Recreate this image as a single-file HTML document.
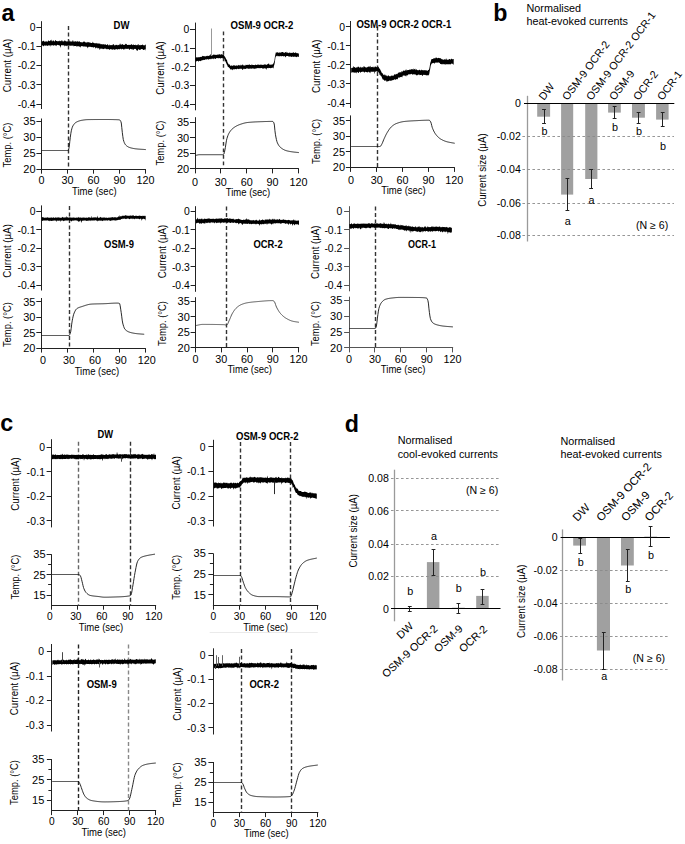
<!DOCTYPE html>
<html><head><meta charset="utf-8"><style>
html,body{margin:0;padding:0;background:#fff;}
body{width:685px;height:844px;overflow:hidden;font-family:'Liberation Sans', sans-serif;}
svg{display:block;}
</style></head><body>
<svg width="685" height="844" viewBox="0 0 685 844" font-family="'Liberation Sans', sans-serif">
<rect width="685" height="844" fill="#fff"/>
<line x1="41.50" y1="21.20" x2="41.50" y2="109.00" stroke="#222" stroke-width="1.0" stroke-linecap="butt"/>
<line x1="36.40" y1="27.50" x2="41.40" y2="27.50" stroke="#222" stroke-width="1" stroke-linecap="butt"/>
<text x="35.60" y="30.80" font-size="10.4" text-anchor="end" fill="#000">0</text>
<line x1="36.40" y1="46.50" x2="41.40" y2="46.50" stroke="#222" stroke-width="1" stroke-linecap="butt"/>
<text x="35.60" y="50.10" font-size="10.4" text-anchor="end" fill="#000">-0.1</text>
<line x1="36.40" y1="65.50" x2="41.40" y2="65.50" stroke="#222" stroke-width="1" stroke-linecap="butt"/>
<text x="35.60" y="69.40" font-size="10.4" text-anchor="end" fill="#000">-0.2</text>
<line x1="36.40" y1="84.50" x2="41.40" y2="84.50" stroke="#222" stroke-width="1" stroke-linecap="butt"/>
<text x="35.60" y="88.70" font-size="10.4" text-anchor="end" fill="#000">-0.3</text>
<line x1="36.40" y1="104.50" x2="41.40" y2="104.50" stroke="#222" stroke-width="1" stroke-linecap="butt"/>
<text x="35.60" y="108.00" font-size="10.4" text-anchor="end" fill="#000">-0.4</text>
<line x1="41.50" y1="118.50" x2="41.50" y2="169.70" stroke="#222" stroke-width="1.0" stroke-linecap="butt"/>
<line x1="36.40" y1="121.50" x2="41.40" y2="121.50" stroke="#222" stroke-width="1" stroke-linecap="butt"/>
<text x="35.60" y="125.30" font-size="11.0" text-anchor="end" fill="#000">35</text>
<line x1="36.40" y1="137.50" x2="41.40" y2="137.50" stroke="#222" stroke-width="1" stroke-linecap="butt"/>
<text x="35.60" y="141.23" font-size="11.0" text-anchor="end" fill="#000">30</text>
<line x1="36.40" y1="153.50" x2="41.40" y2="153.50" stroke="#222" stroke-width="1" stroke-linecap="butt"/>
<text x="35.60" y="157.17" font-size="11.0" text-anchor="end" fill="#000">25</text>
<line x1="36.40" y1="169.50" x2="41.40" y2="169.50" stroke="#222" stroke-width="1" stroke-linecap="butt"/>
<text x="35.60" y="173.10" font-size="11.0" text-anchor="end" fill="#000">20</text>
<line x1="40.90" y1="169.50" x2="145.90" y2="169.50" stroke="#222" stroke-width="1.2" stroke-linecap="butt"/>
<line x1="41.50" y1="169.20" x2="41.50" y2="173.70" stroke="#222" stroke-width="1" stroke-linecap="butt"/>
<text x="41.40" y="183.60" font-size="10.8" text-anchor="middle" fill="#000">0</text>
<line x1="67.50" y1="169.20" x2="67.50" y2="173.70" stroke="#222" stroke-width="1" stroke-linecap="butt"/>
<text x="67.40" y="183.60" font-size="10.8" text-anchor="middle" fill="#000">30</text>
<line x1="93.50" y1="169.20" x2="93.50" y2="173.70" stroke="#222" stroke-width="1" stroke-linecap="butt"/>
<text x="93.40" y="183.60" font-size="10.8" text-anchor="middle" fill="#000">60</text>
<line x1="119.50" y1="169.20" x2="119.50" y2="173.70" stroke="#222" stroke-width="1" stroke-linecap="butt"/>
<text x="119.40" y="183.60" font-size="10.8" text-anchor="middle" fill="#000">90</text>
<line x1="145.50" y1="169.20" x2="145.50" y2="173.70" stroke="#222" stroke-width="1" stroke-linecap="butt"/>
<text x="145.40" y="183.60" font-size="10.8" text-anchor="middle" fill="#000">120</text>
<text x="94.30" y="194.80" font-size="10.5" text-anchor="middle" textLength="44.6" lengthAdjust="spacingAndGlyphs" fill="#000">Time (sec)</text>
<text x="10.80" y="65.50" font-size="10.5" text-anchor="middle" transform="rotate(-90 10.80 65.50)" textLength="53.5" lengthAdjust="spacingAndGlyphs" fill="#000">Current (µA)</text>
<text x="10.80" y="145.00" font-size="10.5" text-anchor="middle" transform="rotate(-90 10.80 145.00)" textLength="45.0" lengthAdjust="spacingAndGlyphs" fill="#000">Temp. (°C)</text>
<line x1="68.50" y1="26.00" x2="68.50" y2="169.20" stroke="#333" stroke-width="1.4" stroke-dasharray="3.9 2.6" stroke-linecap="butt"/>
<path d="M41.8,41.8 42.3,41.3 42.8,41.2 43.3,40.8 43.8,40.7 44.3,41.7 44.8,41.6 45.3,41.4 45.8,41.6 46.3,41.5 46.8,41.2 47.3,41.7 47.8,41.6 48.3,40.6 48.8,40.6 49.3,41.2 49.8,40.9 50.3,40.5 50.8,40.2 51.3,39.5 51.8,41.3 52.3,41.5 52.8,40.6 53.3,41.1 53.8,40.1 54.3,41.4 54.8,41.4 55.3,39.8 55.8,40.6 56.3,41.1 56.8,41.1 57.3,41.0 57.8,41.4 58.3,41.3 58.8,41.1 59.3,40.5 59.8,41.2 60.3,41.3 60.8,41.1 61.3,40.1 61.8,41.2 62.3,41.4 62.8,40.2 63.3,41.5 63.8,41.4 64.3,41.0 64.8,39.9 65.3,41.6 65.8,40.6 66.3,41.6 66.8,41.5 67.3,41.6 67.8,41.2 68.3,41.6 68.8,41.7 69.3,41.5 69.8,40.0 70.3,41.2 70.8,41.8 71.3,41.5 71.8,41.4 72.3,41.4 72.8,40.0 73.3,40.8 73.8,41.9 74.3,40.9 74.8,42.1 75.3,41.0 75.8,41.5 76.3,41.4 76.8,41.8 77.3,40.7 77.8,41.7 78.3,41.4 78.8,41.7 79.3,41.0 79.8,41.7 80.3,42.0 80.8,42.2 81.3,42.3 81.8,42.2 82.3,42.2 82.8,42.4 83.3,41.5 83.8,41.8 84.3,41.6 84.8,41.7 85.3,42.5 85.8,42.2 86.3,42.2 86.8,42.7 87.3,42.4 87.8,41.7 88.3,42.5 88.8,41.9 89.3,42.6 89.8,42.4 90.3,42.6 90.8,43.0 91.3,43.1 91.8,43.0 92.3,43.0 92.8,41.6 93.3,42.9 93.8,42.8 94.3,43.1 94.8,43.6 95.3,43.1 95.8,43.6 96.3,43.6 96.8,42.8 97.3,44.0 97.8,42.9 98.3,43.0 98.8,44.3 99.3,43.3 99.8,43.7 100.3,44.5 100.8,43.5 101.3,44.5 101.8,43.9 102.3,44.3 102.8,44.5 103.3,44.0 103.8,44.4 104.3,44.2 104.8,44.7 105.3,44.3 105.8,44.6 106.3,45.0 106.8,44.9 107.3,44.5 107.8,44.0 108.3,45.3 108.8,45.4 109.3,44.3 109.8,45.4 110.3,45.0 110.8,45.3 111.3,45.1 111.8,45.3 112.3,45.2 112.8,44.5 113.3,44.5 113.8,44.1 114.3,45.2 114.8,45.5 115.3,45.2 115.8,44.8 116.3,44.7 116.8,44.9 117.3,45.4 117.8,44.8 118.3,45.2 118.8,44.8 119.3,45.2 119.8,43.6 120.3,45.1 120.8,43.2 121.3,44.6 121.8,44.9 122.3,44.1 122.8,44.3 123.3,45.0 123.8,44.7 124.3,44.9 124.8,44.7 125.3,43.4 125.8,44.6 126.3,43.7 126.8,44.6 127.3,45.1 127.8,44.9 128.3,44.7 128.8,44.9 129.3,44.7 129.8,45.0 130.3,44.7 130.8,45.0 131.3,44.0 131.8,44.6 132.3,45.2 132.8,44.8 133.3,44.2 133.8,45.1 134.3,45.1 134.8,44.9 135.3,44.6 135.8,45.2 136.3,45.3 136.8,45.1 137.3,45.3 137.8,44.5 138.3,43.7 138.8,45.4 139.3,45.0 139.8,45.3 140.3,44.7 140.8,45.5 141.3,45.0 141.8,45.0 142.3,44.5 142.8,44.8 143.3,45.0 143.8,45.4 144.3,45.5 144.8,45.0 145.3,44.8 145.8,44.5 145.8,50.9 145.3,49.1 144.8,49.7 144.3,49.5 143.8,49.9 143.3,49.9 142.8,49.5 142.3,49.0 141.8,49.0 141.3,49.1 140.8,49.5 140.3,49.8 139.8,49.8 139.3,50.0 138.8,49.6 138.3,49.1 137.8,50.2 137.3,51.0 136.8,50.5 136.3,49.9 135.8,48.8 135.3,48.9 134.8,48.9 134.3,48.8 133.8,49.3 133.3,50.1 132.8,50.0 132.3,48.8 131.8,48.9 131.3,49.5 130.8,48.8 130.3,49.1 129.8,49.3 129.3,50.2 128.8,49.0 128.3,48.5 127.8,48.9 127.3,48.7 126.8,48.8 126.3,49.1 125.8,48.6 125.3,48.9 124.8,49.8 124.3,48.7 123.8,48.9 123.3,50.1 122.8,48.8 122.3,49.0 121.8,48.8 121.3,49.8 120.8,48.8 120.3,48.7 119.8,49.3 119.3,49.3 118.8,49.3 118.3,49.0 117.8,49.2 117.3,49.7 116.8,49.2 116.3,48.9 115.8,49.4 115.3,49.2 114.8,50.0 114.3,49.5 113.8,49.5 113.3,49.3 112.8,49.3 112.3,49.9 111.8,49.6 111.3,49.2 110.8,49.1 110.3,49.3 109.8,49.6 109.3,50.0 108.8,48.9 108.3,49.2 107.8,48.8 107.3,49.4 106.8,48.8 106.3,49.5 105.8,48.7 105.3,48.6 104.8,48.7 104.3,48.5 103.8,49.3 103.3,49.1 102.8,48.4 102.3,49.2 101.8,48.2 101.3,49.1 100.8,48.4 100.3,48.7 99.8,50.3 99.3,48.6 98.8,47.9 98.3,48.4 97.8,47.6 97.3,48.8 96.8,47.8 96.3,47.4 95.8,48.7 95.3,47.7 94.8,47.2 94.3,47.1 93.8,47.1 93.3,48.1 92.8,47.3 92.3,46.9 91.8,47.2 91.3,46.9 90.8,46.8 90.3,47.1 89.8,46.5 89.3,47.0 88.8,47.2 88.3,46.5 87.8,48.4 87.3,47.3 86.8,46.4 86.3,46.8 85.8,46.9 85.3,46.3 84.8,46.4 84.3,46.4 83.8,46.4 83.3,46.6 82.8,46.5 82.3,46.0 81.8,45.9 81.3,45.9 80.8,47.7 80.3,46.4 79.8,46.2 79.3,47.0 78.8,46.6 78.3,46.1 77.8,46.2 77.3,46.2 76.8,47.0 76.3,45.8 75.8,46.1 75.3,46.0 74.8,46.1 74.3,45.9 73.8,46.4 73.3,45.5 72.8,45.6 72.3,45.8 71.8,45.7 71.3,45.6 70.8,45.9 70.3,45.6 69.8,45.5 69.3,45.8 68.8,45.6 68.3,45.5 67.8,45.6 67.3,45.8 66.8,46.3 66.3,45.4 65.8,45.9 65.3,45.5 64.8,45.2 64.3,46.7 63.8,45.0 63.3,45.5 62.8,45.1 62.3,45.6 61.8,45.2 61.3,45.1 60.8,46.2 60.3,48.1 59.8,44.9 59.3,45.8 58.8,45.3 58.3,44.9 57.8,44.8 57.3,45.0 56.8,45.0 56.3,46.2 55.8,45.5 55.3,45.5 54.8,44.9 54.3,45.3 53.8,46.0 53.3,45.3 52.8,45.1 52.3,45.6 51.8,45.1 51.3,45.6 50.8,46.7 50.3,45.1 49.8,45.4 49.3,45.4 48.8,45.3 48.3,45.6 47.8,45.7 47.3,46.0 46.8,45.3 46.3,45.8 45.8,45.3 45.3,46.1 44.8,45.5 44.3,45.3 43.8,46.5 43.3,45.9 42.8,45.5 42.3,45.5 41.8,45.8Z" fill="#000"/>
<path d="M41.80,150.50 42.30,150.50 42.80,150.50 43.30,150.50 43.80,150.50 44.30,150.50 44.80,150.50 45.30,150.50 45.80,150.50 46.30,150.50 46.80,150.50 47.30,150.50 47.80,150.50 48.30,150.50 48.80,150.50 49.30,150.50 49.80,150.50 50.30,150.50 50.80,150.50 51.30,150.50 51.80,150.50 52.30,150.50 52.80,150.50 53.30,150.50 53.80,150.50 54.30,150.50 54.80,150.50 55.30,150.50 55.80,150.50 56.30,150.50 56.80,150.50 57.30,150.50 57.80,150.50 58.30,150.50 58.80,150.50 59.30,150.50 59.80,150.50 60.30,150.50 60.80,150.50 61.30,150.50 61.80,150.50 62.30,150.50 62.80,150.50 63.30,150.50 63.80,150.50 64.30,150.50 64.80,150.50 65.30,150.50 65.80,150.50 66.30,150.50 66.80,150.50 67.30,150.50 67.80,150.50 68.30,150.34 68.80,148.95 69.30,146.15 69.80,141.48 70.30,137.27 70.80,133.65 71.30,130.80 71.80,128.84 72.30,127.26 72.80,126.08 73.30,125.24 73.80,124.50 74.30,123.86 74.80,123.31 75.30,122.86 75.80,122.48 76.30,122.19 76.80,121.93 77.30,121.68 77.80,121.46 78.30,121.26 78.80,121.07 79.30,120.90 79.80,120.75 80.30,120.62 80.80,120.50 81.30,120.39 81.80,120.30 82.30,120.22 82.80,120.14 83.30,120.06 83.80,119.98 84.30,119.91 84.80,119.85 85.30,119.79 85.80,119.74 86.30,119.69 86.80,119.66 87.30,119.63 87.80,119.61 88.30,119.60 88.80,119.59 89.30,119.59 89.80,119.58 90.30,119.57 90.80,119.57 91.30,119.56 91.80,119.56 92.30,119.55 92.80,119.55 93.30,119.54 93.80,119.54 94.30,119.54 94.80,119.53 95.30,119.53 95.80,119.53 96.30,119.52 96.80,119.52 97.30,119.52 97.80,119.51 98.30,119.51 98.80,119.51 99.30,119.51 99.80,119.51 100.30,119.51 100.80,119.50 101.30,119.50 101.80,119.50 102.30,119.50 102.80,119.50 103.30,119.50 103.80,119.50 104.30,119.50 104.80,119.50 105.30,119.50 105.80,119.50 106.30,119.50 106.80,119.50 107.30,119.51 107.80,119.51 108.30,119.51 108.80,119.52 109.30,119.52 109.80,119.52 110.30,119.53 110.80,119.54 111.30,119.54 111.80,119.55 112.30,119.56 112.80,119.57 113.30,119.58 113.80,119.59 114.30,119.61 114.80,119.62 115.30,119.63 115.80,119.65 116.30,119.67 116.80,119.69 117.30,119.71 117.80,119.73 118.30,119.75 118.80,119.77 119.30,119.80 119.80,120.01 120.30,120.57 120.80,121.44 121.30,123.02 121.80,127.73 122.30,132.37 122.80,136.33 123.30,139.57 123.80,141.32 124.30,142.63 124.80,143.68 125.30,144.49 125.80,145.10 126.30,145.57 126.80,145.98 127.30,146.35 127.80,146.67 128.30,146.95 128.80,147.19 129.30,147.39 129.80,147.57 130.30,147.72 130.80,147.86 131.30,148.00 131.80,148.12 132.30,148.24 132.80,148.34 133.30,148.44 133.80,148.53 134.30,148.62 134.80,148.70 135.30,148.77 135.80,148.83 136.30,148.89 136.80,148.94 137.30,148.99 137.80,149.04 138.30,149.08 138.80,149.13 139.30,149.16 139.80,149.20 140.30,149.24 140.80,149.27 141.30,149.30 141.80,149.33 142.30,149.36 142.80,149.39 143.30,149.42 143.80,149.45 144.30,149.49 144.80,149.52 145.30,149.55 145.80,149.59" fill="none" stroke="#111" stroke-width="0.9" stroke-linejoin="round"/>
<text x="121.50" y="29.20" font-size="10.3" text-anchor="middle" font-weight="bold" textLength="15.9" lengthAdjust="spacingAndGlyphs" fill="#000">DW</text>
<line x1="195.50" y1="22.60" x2="195.50" y2="110.30" stroke="#222" stroke-width="1.0" stroke-linecap="butt"/>
<line x1="190.00" y1="29.50" x2="195.00" y2="29.50" stroke="#222" stroke-width="1" stroke-linecap="butt"/>
<text x="189.20" y="33.00" font-size="10.4" text-anchor="end" fill="#000">0</text>
<line x1="190.00" y1="48.50" x2="195.00" y2="48.50" stroke="#222" stroke-width="1" stroke-linecap="butt"/>
<text x="189.20" y="51.82" font-size="10.4" text-anchor="end" fill="#000">-0.1</text>
<line x1="190.00" y1="66.50" x2="195.00" y2="66.50" stroke="#222" stroke-width="1" stroke-linecap="butt"/>
<text x="189.20" y="70.65" font-size="10.4" text-anchor="end" fill="#000">-0.2</text>
<line x1="190.00" y1="85.50" x2="195.00" y2="85.50" stroke="#222" stroke-width="1" stroke-linecap="butt"/>
<text x="189.20" y="89.47" font-size="10.4" text-anchor="end" fill="#000">-0.3</text>
<line x1="190.00" y1="104.50" x2="195.00" y2="104.50" stroke="#222" stroke-width="1" stroke-linecap="butt"/>
<text x="189.20" y="108.30" font-size="10.4" text-anchor="end" fill="#000">-0.4</text>
<line x1="195.50" y1="117.20" x2="195.50" y2="169.40" stroke="#222" stroke-width="1.0" stroke-linecap="butt"/>
<line x1="190.00" y1="122.50" x2="195.00" y2="122.50" stroke="#222" stroke-width="1" stroke-linecap="butt"/>
<text x="189.20" y="126.20" font-size="11.0" text-anchor="end" fill="#000">35</text>
<line x1="190.00" y1="137.50" x2="195.00" y2="137.50" stroke="#222" stroke-width="1" stroke-linecap="butt"/>
<text x="189.20" y="141.73" font-size="11.0" text-anchor="end" fill="#000">30</text>
<line x1="190.00" y1="153.50" x2="195.00" y2="153.50" stroke="#222" stroke-width="1" stroke-linecap="butt"/>
<text x="189.20" y="157.27" font-size="11.0" text-anchor="end" fill="#000">25</text>
<line x1="190.00" y1="168.50" x2="195.00" y2="168.50" stroke="#222" stroke-width="1" stroke-linecap="butt"/>
<text x="189.20" y="172.80" font-size="11.0" text-anchor="end" fill="#000">20</text>
<line x1="194.50" y1="168.50" x2="298.90" y2="168.50" stroke="#222" stroke-width="1.2" stroke-linecap="butt"/>
<line x1="195.50" y1="168.90" x2="195.50" y2="173.40" stroke="#222" stroke-width="1" stroke-linecap="butt"/>
<text x="195.00" y="185.60" font-size="10.8" text-anchor="middle" fill="#000">0</text>
<line x1="220.50" y1="168.90" x2="220.50" y2="173.40" stroke="#222" stroke-width="1" stroke-linecap="butt"/>
<text x="220.85" y="185.60" font-size="10.8" text-anchor="middle" fill="#000">30</text>
<line x1="246.50" y1="168.90" x2="246.50" y2="173.40" stroke="#222" stroke-width="1" stroke-linecap="butt"/>
<text x="246.70" y="185.60" font-size="10.8" text-anchor="middle" fill="#000">60</text>
<line x1="272.50" y1="168.90" x2="272.50" y2="173.40" stroke="#222" stroke-width="1" stroke-linecap="butt"/>
<text x="272.55" y="185.60" font-size="10.8" text-anchor="middle" fill="#000">90</text>
<line x1="298.50" y1="168.90" x2="298.50" y2="173.40" stroke="#222" stroke-width="1" stroke-linecap="butt"/>
<text x="298.40" y="185.60" font-size="10.8" text-anchor="middle" fill="#000">120</text>
<text x="248.00" y="195.80" font-size="10.5" text-anchor="middle" textLength="44.6" lengthAdjust="spacingAndGlyphs" fill="#000">Time (sec)</text>
<text x="164.50" y="67.90" font-size="10.5" text-anchor="middle" transform="rotate(-90 164.50 67.90)" textLength="53.5" lengthAdjust="spacingAndGlyphs" fill="#000">Current (µA)</text>
<text x="164.50" y="143.05" font-size="10.5" text-anchor="middle" transform="rotate(-90 164.50 143.05)" textLength="45.0" lengthAdjust="spacingAndGlyphs" fill="#000">Temp. (°C)</text>
<line x1="223.50" y1="31.40" x2="223.50" y2="168.90" stroke="#333" stroke-width="1.4" stroke-dasharray="3.9 2.6" stroke-linecap="butt"/>
<path d="M195.4,57.8 195.9,58.0 196.4,56.9 196.9,57.5 197.4,57.3 197.9,57.6 198.4,57.0 198.9,57.5 199.4,57.3 199.9,56.9 200.4,56.9 200.9,56.8 201.4,56.8 201.9,56.9 202.4,55.8 202.9,56.0 203.4,56.2 203.9,56.1 204.4,56.4 204.9,56.1 205.4,56.5 205.9,56.3 206.4,55.8 206.9,56.2 207.4,56.1 207.9,55.6 208.4,55.9 208.9,56.0 209.4,55.4 209.9,55.3 210.4,53.8 210.9,55.7 211.4,55.5 211.9,55.4 212.4,54.9 212.9,55.4 213.4,54.5 213.9,54.5 214.4,54.7 214.9,54.8 215.4,54.7 215.9,55.1 216.4,54.8 216.9,55.1 217.4,54.3 217.9,55.0 218.4,54.3 218.9,54.8 219.4,54.1 219.9,54.4 220.4,54.5 220.9,54.8 221.4,54.0 221.9,54.4 222.4,54.5 222.9,54.7 223.4,54.4 223.9,55.2 224.4,55.9 224.9,56.8 225.4,57.6 225.9,58.5 226.4,59.9 226.9,59.3 227.4,62.2 227.9,62.7 228.4,64.0 228.9,64.6 229.4,64.2 229.9,65.1 230.4,65.7 230.9,65.9 231.4,65.7 231.9,65.0 232.4,66.0 232.9,65.7 233.4,65.5 233.9,65.0 234.4,65.2 234.9,65.8 235.4,65.9 235.9,65.2 236.4,65.4 236.9,65.5 237.4,65.7 237.9,65.6 238.4,64.8 238.9,65.5 239.4,65.0 239.9,65.7 240.4,65.6 240.9,64.6 241.4,65.2 241.9,65.5 242.4,64.8 242.9,64.3 243.4,65.5 243.9,65.4 244.4,65.4 244.9,65.4 245.4,65.4 245.9,64.6 246.4,65.1 246.9,64.9 247.4,64.8 247.9,65.1 248.4,65.0 248.9,64.5 249.4,64.3 249.9,65.1 250.4,65.1 250.9,65.1 251.4,65.3 251.9,64.1 252.4,64.9 252.9,65.1 253.4,65.0 253.9,64.9 254.4,65.1 254.9,65.2 255.4,64.5 255.9,64.8 256.4,65.0 256.9,64.9 257.4,64.4 257.9,64.8 258.4,64.6 258.9,64.7 259.4,64.8 259.9,64.9 260.4,64.5 260.9,64.8 261.4,64.5 261.9,64.9 262.4,64.8 262.9,64.9 263.4,64.8 263.9,64.8 264.4,64.6 264.9,64.3 265.4,64.8 265.9,64.3 266.4,64.9 266.9,64.8 267.4,64.2 267.9,63.9 268.4,64.1 268.9,62.9 269.4,64.8 269.9,64.7 270.4,64.7 270.9,64.6 271.4,64.5 271.9,64.7 272.4,64.6 272.9,64.0 273.4,63.5 273.9,62.3 274.4,60.8 274.9,56.8 275.4,54.3 275.9,52.2 276.4,52.7 276.9,52.2 277.4,52.3 277.9,52.5 278.4,52.7 278.9,52.7 279.4,52.2 279.9,52.7 280.4,52.8 280.9,52.3 281.4,52.3 281.9,52.2 282.4,52.1 282.9,52.1 283.4,52.3 283.9,53.0 284.4,52.4 284.9,53.0 285.4,52.0 285.9,52.1 286.4,53.0 286.9,51.6 287.4,53.0 287.9,52.4 288.4,53.2 288.9,52.7 289.4,53.1 289.9,51.9 290.4,53.2 290.9,52.8 291.4,52.9 291.9,52.8 292.4,53.0 292.9,52.5 293.4,52.0 293.9,53.0 294.4,53.0 294.9,52.8 295.4,52.4 295.9,52.6 296.4,52.9 296.9,53.3 297.4,53.0 297.9,53.4 298.4,53.4 298.9,53.4 298.9,56.7 298.4,57.0 297.9,56.6 297.4,56.5 296.9,57.3 296.4,57.1 295.9,56.8 295.4,56.7 294.9,56.8 294.4,56.5 293.9,56.9 293.4,56.7 292.9,56.5 292.4,56.6 291.9,56.9 291.4,56.7 290.9,57.1 290.4,56.3 289.9,56.3 289.4,56.7 288.9,56.8 288.4,56.2 287.9,56.1 287.4,56.1 286.9,56.1 286.4,56.1 285.9,56.7 285.4,57.6 284.9,56.0 284.4,56.2 283.9,56.3 283.4,56.6 282.9,56.0 282.4,56.0 281.9,56.2 281.4,56.2 280.9,56.2 280.4,55.7 279.9,56.8 279.4,56.0 278.9,56.1 278.4,56.3 277.9,56.6 277.4,55.8 276.9,55.8 276.4,56.2 275.9,56.3 275.4,57.8 274.9,62.1 274.4,64.5 273.9,65.9 273.4,68.8 272.9,67.6 272.4,67.8 271.9,68.1 271.4,67.8 270.9,68.4 270.4,67.9 269.9,68.1 269.4,67.9 268.9,67.7 268.4,68.2 267.9,68.2 267.4,68.0 266.9,68.1 266.4,69.9 265.9,68.6 265.4,68.4 264.9,68.5 264.4,67.9 263.9,68.8 263.4,68.3 262.9,69.1 262.4,68.3 261.9,67.9 261.4,67.9 260.9,68.3 260.4,67.9 259.9,68.5 259.4,67.9 258.9,67.9 258.4,68.3 257.9,68.0 257.4,68.1 256.9,68.7 256.4,68.1 255.9,68.7 255.4,68.6 254.9,68.6 254.4,69.2 253.9,68.1 253.4,68.9 252.9,68.6 252.4,68.2 251.9,69.1 251.4,68.4 250.9,68.5 250.4,68.5 249.9,69.0 249.4,68.5 248.9,68.6 248.4,68.9 247.9,68.6 247.4,68.4 246.9,68.3 246.4,68.4 245.9,69.0 245.4,69.1 244.9,68.5 244.4,69.2 243.9,68.8 243.4,68.7 242.9,69.9 242.4,69.8 241.9,69.1 241.4,68.8 240.9,68.5 240.4,69.0 239.9,68.6 239.4,69.1 238.9,69.3 238.4,68.9 237.9,68.8 237.4,68.8 236.9,69.0 236.4,69.4 235.9,69.0 235.4,68.9 234.9,69.6 234.4,69.2 233.9,69.1 233.4,69.5 232.9,69.2 232.4,70.2 231.9,70.0 231.4,69.0 230.9,69.5 230.4,69.4 229.9,68.5 229.4,68.0 228.9,67.5 228.4,67.0 227.9,66.9 227.4,65.5 226.9,64.7 226.4,63.6 225.9,62.5 225.4,61.1 224.9,61.7 224.4,59.0 223.9,58.3 223.4,58.2 222.9,57.8 222.4,58.4 221.9,58.0 221.4,58.0 220.9,58.4 220.4,58.5 219.9,57.9 219.4,58.3 218.9,57.9 218.4,58.6 217.9,58.1 217.4,58.2 216.9,58.1 216.4,58.1 215.9,59.0 215.4,58.8 214.9,59.0 214.4,58.3 213.9,58.3 213.4,59.2 212.9,59.0 212.4,58.6 211.9,58.6 211.4,59.1 210.9,59.5 210.4,58.8 209.9,59.0 209.4,59.2 208.9,59.0 208.4,60.0 207.9,59.0 207.4,59.3 206.9,59.5 206.4,59.6 205.9,59.3 205.4,59.6 204.9,59.8 204.4,59.9 203.9,60.0 203.4,59.7 202.9,60.4 202.4,59.9 201.9,60.2 201.4,60.4 200.9,61.3 200.4,60.9 199.9,60.7 199.4,61.0 198.9,60.7 198.4,62.0 197.9,60.8 197.4,61.1 196.9,60.9 196.4,61.5 195.9,61.2 195.4,62.0Z" fill="#000"/>
<path d="M195.40,155.50 195.90,155.39 196.40,155.26 196.90,155.13 197.40,155.00 197.90,154.88 198.40,154.79 198.90,154.72 199.40,154.70 199.90,154.70 200.40,154.70 200.90,154.70 201.40,154.70 201.90,154.70 202.40,154.70 202.90,154.70 203.40,154.70 203.90,154.70 204.40,154.70 204.90,154.70 205.40,154.70 205.90,154.70 206.40,154.70 206.90,154.70 207.40,154.70 207.90,154.70 208.40,154.70 208.90,154.70 209.40,154.70 209.90,154.70 210.40,154.70 210.90,154.70 211.40,154.70 211.90,154.70 212.40,154.70 212.90,154.70 213.40,154.70 213.90,154.70 214.40,154.70 214.90,154.70 215.40,154.70 215.90,154.70 216.40,154.70 216.90,154.70 217.40,154.70 217.90,154.70 218.40,154.70 218.90,154.70 219.40,154.70 219.90,154.70 220.40,154.70 220.90,154.70 221.40,154.70 221.90,154.70 222.40,154.70 222.90,154.68 223.40,154.48 223.90,154.08 224.40,152.47 224.90,149.99 225.40,147.34 225.90,144.00 226.40,140.82 226.90,138.66 227.40,137.00 227.90,135.58 228.40,134.37 228.90,133.36 229.40,132.50 229.90,131.73 230.40,131.02 230.90,130.38 231.40,129.79 231.90,129.27 232.40,128.79 232.90,128.36 233.40,127.97 233.90,127.60 234.40,127.25 234.90,126.92 235.40,126.61 235.90,126.31 236.40,126.03 236.90,125.77 237.40,125.52 237.90,125.29 238.40,125.07 238.90,124.86 239.40,124.67 239.90,124.49 240.40,124.32 240.90,124.14 241.40,123.97 241.90,123.81 242.40,123.65 242.90,123.50 243.40,123.35 243.90,123.21 244.40,123.08 244.90,122.96 245.40,122.85 245.90,122.75 246.40,122.66 246.90,122.59 247.40,122.52 247.90,122.47 248.40,122.42 248.90,122.37 249.40,122.32 249.90,122.28 250.40,122.24 250.90,122.20 251.40,122.16 251.90,122.12 252.40,122.09 252.90,122.05 253.40,122.02 253.90,121.99 254.40,121.96 254.90,121.94 255.40,121.91 255.90,121.89 256.40,121.86 256.90,121.84 257.40,121.82 257.90,121.80 258.40,121.77 258.90,121.76 259.40,121.74 259.90,121.72 260.40,121.70 260.90,121.68 261.40,121.66 261.90,121.65 262.40,121.63 262.90,121.61 263.40,121.59 263.90,121.58 264.40,121.56 264.90,121.54 265.40,121.53 265.90,121.51 266.40,121.50 266.90,121.48 267.40,121.47 267.90,121.46 268.40,121.45 268.90,121.44 269.40,121.43 269.90,121.42 270.40,121.41 270.90,121.41 271.40,121.40 271.90,121.40 272.40,121.40 272.90,121.53 273.40,122.04 273.90,122.88 274.40,125.05 274.90,130.37 275.40,134.22 275.90,137.06 276.40,139.51 276.90,141.46 277.40,142.83 277.90,143.89 278.40,144.81 278.90,145.59 279.40,146.26 279.90,146.83 280.40,147.31 280.90,147.74 281.40,148.13 281.90,148.50 282.40,148.84 282.90,149.16 283.40,149.45 283.90,149.72 284.40,149.96 284.90,150.17 285.40,150.37 285.90,150.54 286.40,150.69 286.90,150.83 287.40,150.96 287.90,151.08 288.40,151.19 288.90,151.29 289.40,151.39 289.90,151.48 290.40,151.57 290.90,151.65 291.40,151.72 291.90,151.80 292.40,151.87 292.90,151.94 293.40,152.01 293.90,152.07 294.40,152.13 294.90,152.18 295.40,152.23 295.90,152.29 296.40,152.34 296.90,152.39 297.40,152.43 297.90,152.48 298.40,152.54 298.90,152.59" fill="none" stroke="#111" stroke-width="0.9" stroke-linejoin="round"/>
<line x1="211.50" y1="28.50" x2="211.50" y2="56.00" stroke="#999" stroke-width="1.0" stroke-linecap="butt"/>
<text x="262.00" y="28.60" font-size="10.3" text-anchor="middle" font-weight="bold" textLength="62.8" lengthAdjust="spacingAndGlyphs" fill="#000">OSM-9 OCR-2</text>
<line x1="350.50" y1="21.00" x2="350.50" y2="108.00" stroke="#222" stroke-width="1.0" stroke-linecap="butt"/>
<line x1="345.90" y1="26.50" x2="350.90" y2="26.50" stroke="#222" stroke-width="1" stroke-linecap="butt"/>
<text x="345.10" y="30.60" font-size="10.4" text-anchor="end" fill="#000">0</text>
<line x1="345.90" y1="45.50" x2="350.90" y2="45.50" stroke="#222" stroke-width="1" stroke-linecap="butt"/>
<text x="345.10" y="49.65" font-size="10.4" text-anchor="end" fill="#000">-0.1</text>
<line x1="345.90" y1="64.50" x2="350.90" y2="64.50" stroke="#222" stroke-width="1" stroke-linecap="butt"/>
<text x="345.10" y="68.70" font-size="10.4" text-anchor="end" fill="#000">-0.2</text>
<line x1="345.90" y1="83.50" x2="350.90" y2="83.50" stroke="#222" stroke-width="1" stroke-linecap="butt"/>
<text x="345.10" y="87.75" font-size="10.4" text-anchor="end" fill="#000">-0.3</text>
<line x1="345.90" y1="103.50" x2="350.90" y2="103.50" stroke="#222" stroke-width="1" stroke-linecap="butt"/>
<text x="345.10" y="106.80" font-size="10.4" text-anchor="end" fill="#000">-0.4</text>
<line x1="350.50" y1="115.40" x2="350.50" y2="167.90" stroke="#222" stroke-width="1.0" stroke-linecap="butt"/>
<line x1="345.90" y1="120.50" x2="350.90" y2="120.50" stroke="#222" stroke-width="1" stroke-linecap="butt"/>
<text x="345.10" y="124.50" font-size="11.0" text-anchor="end" fill="#000">35</text>
<line x1="345.90" y1="136.50" x2="350.90" y2="136.50" stroke="#222" stroke-width="1" stroke-linecap="butt"/>
<text x="345.10" y="140.10" font-size="11.0" text-anchor="end" fill="#000">30</text>
<line x1="345.90" y1="151.50" x2="350.90" y2="151.50" stroke="#222" stroke-width="1" stroke-linecap="butt"/>
<text x="345.10" y="155.70" font-size="11.0" text-anchor="end" fill="#000">25</text>
<line x1="345.90" y1="167.50" x2="350.90" y2="167.50" stroke="#222" stroke-width="1" stroke-linecap="butt"/>
<text x="345.10" y="171.30" font-size="11.0" text-anchor="end" fill="#000">20</text>
<line x1="350.40" y1="167.50" x2="454.80" y2="167.50" stroke="#222" stroke-width="1.2" stroke-linecap="butt"/>
<line x1="350.50" y1="167.40" x2="350.50" y2="171.90" stroke="#222" stroke-width="1" stroke-linecap="butt"/>
<text x="350.90" y="183.80" font-size="10.8" text-anchor="middle" fill="#000">0</text>
<line x1="376.50" y1="167.40" x2="376.50" y2="171.90" stroke="#222" stroke-width="1" stroke-linecap="butt"/>
<text x="376.75" y="183.80" font-size="10.8" text-anchor="middle" fill="#000">30</text>
<line x1="402.50" y1="167.40" x2="402.50" y2="171.90" stroke="#222" stroke-width="1" stroke-linecap="butt"/>
<text x="402.60" y="183.80" font-size="10.8" text-anchor="middle" fill="#000">60</text>
<line x1="428.50" y1="167.40" x2="428.50" y2="171.90" stroke="#222" stroke-width="1" stroke-linecap="butt"/>
<text x="428.45" y="183.80" font-size="10.8" text-anchor="middle" fill="#000">90</text>
<line x1="454.50" y1="167.40" x2="454.50" y2="171.90" stroke="#222" stroke-width="1" stroke-linecap="butt"/>
<text x="454.30" y="183.80" font-size="10.8" text-anchor="middle" fill="#000">120</text>
<text x="403.50" y="194.10" font-size="10.5" text-anchor="middle" textLength="44.6" lengthAdjust="spacingAndGlyphs" fill="#000">Time (sec)</text>
<text x="319.60" y="66.30" font-size="10.5" text-anchor="middle" transform="rotate(-90 319.60 66.30)" textLength="53.5" lengthAdjust="spacingAndGlyphs" fill="#000">Current (µA)</text>
<text x="319.60" y="141.40" font-size="10.5" text-anchor="middle" transform="rotate(-90 319.60 141.40)" textLength="45.0" lengthAdjust="spacingAndGlyphs" fill="#000">Temp. (°C)</text>
<line x1="377.50" y1="26.50" x2="377.50" y2="167.40" stroke="#333" stroke-width="1.4" stroke-dasharray="3.9 2.6" stroke-linecap="butt"/>
<path d="M351.2,67.9 351.7,68.1 352.2,67.4 352.7,68.0 353.2,67.5 353.7,65.8 354.2,67.3 354.7,67.0 355.2,67.5 355.7,67.9 356.2,67.2 356.7,67.8 357.2,66.6 357.7,67.7 358.2,66.6 358.7,66.8 359.2,67.5 359.7,67.8 360.2,66.6 360.7,67.6 361.2,67.4 361.7,67.5 362.2,67.3 362.7,67.3 363.2,67.7 363.7,66.1 364.2,66.7 364.7,66.4 365.2,67.1 365.7,67.4 366.2,67.4 366.7,67.5 367.2,67.3 367.7,67.0 368.2,66.2 368.7,67.0 369.2,66.1 369.7,67.1 370.2,67.4 370.7,65.5 371.2,67.2 371.7,67.1 372.2,67.3 372.7,66.8 373.2,66.6 373.7,67.4 374.2,67.4 374.7,66.7 375.2,66.0 375.7,67.1 376.2,67.3 376.7,67.0 377.2,67.0 377.7,67.6 378.2,67.2 378.7,66.6 379.2,68.5 379.7,68.6 380.2,69.6 380.7,70.5 381.2,71.4 381.7,72.7 382.2,73.1 382.7,73.5 383.2,74.4 383.7,75.3 384.2,74.0 384.7,75.5 385.2,74.6 385.7,75.8 386.2,74.9 386.7,76.2 387.2,75.4 387.7,76.5 388.2,75.8 388.7,75.1 389.2,76.5 389.7,76.1 390.2,76.5 390.7,76.1 391.2,75.2 391.7,76.1 392.2,75.3 392.7,76.0 393.2,75.8 393.7,75.6 394.2,74.8 394.7,73.9 395.2,74.4 395.7,74.5 396.2,74.3 396.7,73.7 397.2,74.2 397.7,73.6 398.2,72.6 398.7,72.7 399.2,72.7 399.7,72.1 400.2,72.3 400.7,72.3 401.2,72.4 401.7,71.0 402.2,71.2 402.7,71.9 403.2,70.2 403.7,70.8 404.2,71.0 404.7,70.4 405.2,70.7 405.7,69.8 406.2,69.3 406.7,70.7 407.2,70.3 407.7,70.1 408.2,70.1 408.7,69.9 409.2,69.8 409.7,69.5 410.2,70.1 410.7,69.2 411.2,69.5 411.7,69.1 412.2,69.3 412.7,69.6 413.2,68.3 413.7,69.9 414.2,68.8 414.7,69.5 415.2,68.6 415.7,70.2 416.2,69.7 416.7,68.9 417.2,70.3 417.7,69.9 418.2,70.4 418.7,69.9 419.2,69.9 419.7,69.6 420.2,70.4 420.7,70.3 421.2,70.2 421.7,69.4 422.2,70.0 422.7,70.3 423.2,70.4 423.7,70.0 424.2,70.4 424.7,69.9 425.2,70.1 425.7,70.6 426.2,70.4 426.7,70.3 427.2,70.7 427.7,70.7 428.2,69.9 428.7,69.9 429.2,69.0 429.7,66.6 430.2,63.0 430.7,61.7 431.2,59.8 431.7,59.1 432.2,59.1 432.7,59.0 433.2,58.8 433.7,58.2 434.2,58.3 434.7,58.3 435.2,58.4 435.7,57.4 436.2,57.8 436.7,57.6 437.2,58.3 437.7,58.2 438.2,57.8 438.7,58.0 439.2,58.2 439.7,57.9 440.2,58.3 440.7,58.3 441.2,58.7 441.7,59.2 442.2,59.2 442.7,59.4 443.2,59.5 443.7,59.9 444.2,59.0 444.7,59.4 445.2,59.9 445.7,58.9 446.2,58.3 446.7,59.8 447.2,59.6 447.7,59.9 448.2,59.6 448.7,59.7 449.2,59.0 449.7,59.1 450.2,59.6 450.7,59.4 451.2,59.1 451.7,58.4 452.2,59.3 452.7,59.2 453.2,59.0 453.7,58.9 453.7,63.8 453.2,64.9 452.7,63.8 452.2,63.8 451.7,63.6 451.2,63.8 450.7,64.3 450.2,64.5 449.7,63.9 449.2,64.6 448.7,64.2 448.2,64.3 447.7,64.4 447.2,63.9 446.7,64.2 446.2,64.2 445.7,65.0 445.2,63.8 444.7,64.3 444.2,64.4 443.7,63.8 443.2,64.4 442.7,64.5 442.2,63.7 441.7,64.5 441.2,63.9 440.7,63.9 440.2,64.0 439.7,62.5 439.2,63.3 438.7,62.4 438.2,62.3 437.7,63.0 437.2,62.3 436.7,62.5 436.2,62.7 435.7,62.7 435.2,62.6 434.7,63.0 434.2,63.9 433.7,62.7 433.2,62.9 432.7,62.9 432.2,63.5 431.7,63.5 431.2,64.4 430.7,65.8 430.2,69.0 429.7,71.3 429.2,74.2 428.7,74.9 428.2,75.6 427.7,75.4 427.2,75.1 426.7,75.3 426.2,75.6 425.7,74.8 425.2,75.3 424.7,74.7 424.2,74.9 423.7,75.1 423.2,74.6 422.7,76.2 422.2,75.4 421.7,74.9 421.2,74.7 420.7,75.0 420.2,74.9 419.7,75.3 419.2,74.5 418.7,74.4 418.2,74.7 417.7,75.5 417.2,74.8 416.7,75.2 416.2,75.4 415.7,74.2 415.2,74.8 414.7,74.1 414.2,74.8 413.7,74.5 413.2,74.1 412.7,74.6 412.2,74.8 411.7,73.8 411.2,74.0 410.7,74.4 410.2,74.0 409.7,74.2 409.2,74.5 408.7,74.2 408.2,74.5 407.7,75.6 407.2,75.3 406.7,75.0 406.2,76.4 405.7,76.2 405.2,75.5 404.7,75.5 404.2,75.7 403.7,75.4 403.2,75.6 402.7,75.8 402.2,77.4 401.7,77.0 401.2,76.7 400.7,77.2 400.2,77.0 399.7,77.3 399.2,77.9 398.7,77.6 398.2,77.6 397.7,79.3 397.2,79.2 396.7,79.3 396.2,79.0 395.7,80.3 395.2,79.3 394.7,79.6 394.2,79.3 393.7,80.3 393.2,79.7 392.7,80.3 392.2,80.3 391.7,80.6 391.2,80.7 390.7,80.7 390.2,80.8 389.7,80.5 389.2,80.8 388.7,81.2 388.2,80.9 387.7,81.4 387.2,81.3 386.7,81.9 386.2,80.5 385.7,80.6 385.2,80.4 384.7,81.1 384.2,80.3 383.7,79.8 383.2,79.4 382.7,79.5 382.2,78.2 381.7,77.0 381.2,76.1 380.7,75.9 380.2,74.5 379.7,75.3 379.2,73.0 378.7,72.5 378.2,71.8 377.7,71.7 377.2,71.7 376.7,71.2 376.2,71.2 375.7,71.8 375.2,71.4 374.7,74.3 374.2,71.5 373.7,71.5 373.2,72.0 372.7,71.8 372.2,71.7 371.7,71.4 371.2,72.0 370.7,71.6 370.2,73.6 369.7,71.7 369.2,73.0 368.7,71.4 368.2,71.9 367.7,72.8 367.2,71.9 366.7,72.1 366.2,72.3 365.7,71.7 365.2,71.7 364.7,72.4 364.2,72.6 363.7,71.9 363.2,71.6 362.7,71.6 362.2,71.9 361.7,72.1 361.2,71.7 360.7,72.7 360.2,72.5 359.7,71.8 359.2,71.8 358.7,73.0 358.2,72.9 357.7,71.9 357.2,72.3 356.7,72.2 356.2,73.4 355.7,72.5 355.2,72.4 354.7,72.6 354.2,72.8 353.7,72.6 353.2,72.2 352.7,72.4 352.2,72.1 351.7,72.9 351.2,72.1Z" fill="#000"/>
<path d="M351.20,146.50 351.70,146.50 352.20,146.50 352.70,146.50 353.20,146.50 353.70,146.50 354.20,146.50 354.70,146.50 355.20,146.50 355.70,146.50 356.20,146.50 356.70,146.50 357.20,146.50 357.70,146.50 358.20,146.50 358.70,146.50 359.20,146.50 359.70,146.50 360.20,146.50 360.70,146.50 361.20,146.50 361.70,146.50 362.20,146.50 362.70,146.50 363.20,146.50 363.70,146.50 364.20,146.50 364.70,146.50 365.20,146.50 365.70,146.50 366.20,146.50 366.70,146.50 367.20,146.50 367.70,146.50 368.20,146.50 368.70,146.50 369.20,146.50 369.70,146.50 370.20,146.50 370.70,146.50 371.20,146.50 371.70,146.50 372.20,146.50 372.70,146.50 373.20,146.50 373.70,146.50 374.20,146.50 374.70,146.50 375.20,146.50 375.70,146.50 376.20,146.50 376.70,146.50 377.20,146.50 377.70,146.50 378.20,146.50 378.70,146.50 379.20,146.50 379.70,146.50 380.20,146.49 380.70,146.07 381.20,145.28 381.70,144.40 382.20,143.43 382.70,142.26 383.20,140.98 383.70,139.72 384.20,138.58 384.70,137.50 385.20,136.43 385.70,135.39 386.20,134.39 386.70,133.44 387.20,132.57 387.70,131.75 388.20,130.95 388.70,130.18 389.20,129.44 389.70,128.74 390.20,128.09 390.70,127.51 391.20,126.99 391.70,126.53 392.20,126.10 392.70,125.70 393.20,125.32 393.70,124.96 394.20,124.63 394.70,124.33 395.20,124.05 395.70,123.81 396.20,123.60 396.70,123.41 397.20,123.22 397.70,123.05 398.20,122.88 398.70,122.71 399.20,122.56 399.70,122.41 400.20,122.28 400.70,122.15 401.20,122.03 401.70,121.91 402.20,121.81 402.70,121.72 403.20,121.64 403.70,121.56 404.20,121.50 404.70,121.44 405.20,121.39 405.70,121.34 406.20,121.29 406.70,121.24 407.20,121.20 407.70,121.16 408.20,121.12 408.70,121.08 409.20,121.05 409.70,121.01 410.20,120.98 410.70,120.95 411.20,120.92 411.70,120.89 412.20,120.86 412.70,120.84 413.20,120.81 413.70,120.78 414.20,120.76 414.70,120.73 415.20,120.71 415.70,120.69 416.20,120.66 416.70,120.64 417.20,120.61 417.70,120.58 418.20,120.56 418.70,120.53 419.20,120.51 419.70,120.48 420.20,120.46 420.70,120.44 421.20,120.41 421.70,120.39 422.20,120.37 422.70,120.35 423.20,120.33 423.70,120.31 424.20,120.29 424.70,120.27 425.20,120.26 425.70,120.25 426.20,120.23 426.70,120.22 427.20,120.22 427.70,120.21 428.20,120.20 428.70,120.20 429.20,120.21 429.70,120.51 430.20,121.12 430.70,121.90 431.20,123.32 431.70,125.41 432.20,127.31 432.70,128.63 433.20,129.82 433.70,130.90 434.20,131.89 434.70,132.78 435.20,133.57 435.70,134.27 436.20,134.92 436.70,135.53 437.20,136.10 437.70,136.64 438.20,137.13 438.70,137.59 439.20,138.01 439.70,138.39 440.20,138.74 440.70,139.05 441.20,139.34 441.70,139.62 442.20,139.89 442.70,140.14 443.20,140.38 443.70,140.60 444.20,140.81 444.70,141.01 445.20,141.19 445.70,141.36 446.20,141.52 446.70,141.67 447.20,141.81 447.70,141.94 448.20,142.06 448.70,142.17 449.20,142.27 449.70,142.37 450.20,142.47 450.70,142.56 451.20,142.65 451.70,142.74 452.20,142.83 452.70,142.91 453.20,143.00 453.70,143.09 454.20,143.18 454.70,143.28" fill="none" stroke="#111" stroke-width="0.9" stroke-linejoin="round"/>
<text x="403.80" y="28.20" font-size="10.3" text-anchor="middle" font-weight="bold" textLength="94.8" lengthAdjust="spacingAndGlyphs" fill="#000">OSM-9 OCR-2 OCR-1</text>
<line x1="41.50" y1="205.40" x2="41.50" y2="290.50" stroke="#222" stroke-width="1.0" stroke-linecap="butt"/>
<line x1="36.30" y1="211.50" x2="41.30" y2="211.50" stroke="#222" stroke-width="1" stroke-linecap="butt"/>
<text x="35.50" y="214.90" font-size="10.4" text-anchor="end" fill="#000">0</text>
<line x1="36.30" y1="229.50" x2="41.30" y2="229.50" stroke="#222" stroke-width="1" stroke-linecap="butt"/>
<text x="35.50" y="233.53" font-size="10.4" text-anchor="end" fill="#000">-0.1</text>
<line x1="36.30" y1="248.50" x2="41.30" y2="248.50" stroke="#222" stroke-width="1" stroke-linecap="butt"/>
<text x="35.50" y="252.15" font-size="10.4" text-anchor="end" fill="#000">-0.2</text>
<line x1="36.30" y1="266.50" x2="41.30" y2="266.50" stroke="#222" stroke-width="1" stroke-linecap="butt"/>
<text x="35.50" y="270.78" font-size="10.4" text-anchor="end" fill="#000">-0.3</text>
<line x1="36.30" y1="285.50" x2="41.30" y2="285.50" stroke="#222" stroke-width="1" stroke-linecap="butt"/>
<text x="35.50" y="289.40" font-size="10.4" text-anchor="end" fill="#000">-0.4</text>
<line x1="41.50" y1="298.00" x2="41.50" y2="348.60" stroke="#222" stroke-width="1.0" stroke-linecap="butt"/>
<line x1="36.30" y1="301.50" x2="41.30" y2="301.50" stroke="#222" stroke-width="1" stroke-linecap="butt"/>
<text x="35.50" y="305.60" font-size="11.0" text-anchor="end" fill="#000">35</text>
<line x1="36.30" y1="317.50" x2="41.30" y2="317.50" stroke="#222" stroke-width="1" stroke-linecap="butt"/>
<text x="35.50" y="321.07" font-size="11.0" text-anchor="end" fill="#000">30</text>
<line x1="36.30" y1="332.50" x2="41.30" y2="332.50" stroke="#222" stroke-width="1" stroke-linecap="butt"/>
<text x="35.50" y="336.53" font-size="11.0" text-anchor="end" fill="#000">25</text>
<line x1="36.30" y1="348.50" x2="41.30" y2="348.50" stroke="#222" stroke-width="1" stroke-linecap="butt"/>
<text x="35.50" y="352.00" font-size="11.0" text-anchor="end" fill="#000">20</text>
<line x1="40.80" y1="348.50" x2="145.50" y2="348.50" stroke="#222" stroke-width="1.2" stroke-linecap="butt"/>
<line x1="41.50" y1="348.10" x2="41.50" y2="352.60" stroke="#222" stroke-width="1" stroke-linecap="butt"/>
<text x="43.10" y="363.60" font-size="10.8" text-anchor="middle" fill="#000">0</text>
<line x1="67.50" y1="348.10" x2="67.50" y2="352.60" stroke="#222" stroke-width="1" stroke-linecap="butt"/>
<text x="69.02" y="363.60" font-size="10.8" text-anchor="middle" fill="#000">30</text>
<line x1="93.50" y1="348.10" x2="93.50" y2="352.60" stroke="#222" stroke-width="1" stroke-linecap="butt"/>
<text x="94.95" y="363.60" font-size="10.8" text-anchor="middle" fill="#000">60</text>
<line x1="119.50" y1="348.10" x2="119.50" y2="352.60" stroke="#222" stroke-width="1" stroke-linecap="butt"/>
<text x="120.88" y="363.60" font-size="10.8" text-anchor="middle" fill="#000">90</text>
<line x1="145.50" y1="348.10" x2="145.50" y2="352.60" stroke="#222" stroke-width="1" stroke-linecap="butt"/>
<text x="146.80" y="363.60" font-size="10.8" text-anchor="middle" fill="#000">120</text>
<text x="96.95" y="375.40" font-size="10.5" text-anchor="middle" textLength="44.6" lengthAdjust="spacingAndGlyphs" fill="#000">Time (sec)</text>
<text x="10.80" y="250.90" font-size="10.5" text-anchor="middle" transform="rotate(-90 10.80 250.90)" textLength="53.5" lengthAdjust="spacingAndGlyphs" fill="#000">Current (µA)</text>
<text x="10.80" y="324.60" font-size="10.5" text-anchor="middle" transform="rotate(-90 10.80 324.60)" textLength="45.0" lengthAdjust="spacingAndGlyphs" fill="#000">Temp. (°C)</text>
<line x1="69.50" y1="206.00" x2="69.50" y2="348.10" stroke="#333" stroke-width="1.4" stroke-dasharray="3.9 2.6" stroke-linecap="butt"/>
<path d="M41.7,217.6 42.2,217.1 42.7,217.3 43.2,217.6 43.7,217.3 44.2,217.8 44.7,217.7 45.2,217.5 45.7,217.7 46.2,217.7 46.7,217.4 47.2,217.6 47.7,217.3 48.2,217.5 48.7,217.7 49.2,217.9 49.7,217.4 50.2,217.4 50.7,217.8 51.2,217.7 51.7,217.2 52.2,217.7 52.7,217.8 53.2,217.4 53.7,217.3 54.2,217.8 54.7,217.9 55.2,217.0 55.7,217.7 56.2,217.7 56.7,217.6 57.2,217.6 57.7,217.6 58.2,217.5 58.7,217.2 59.2,217.7 59.7,217.6 60.2,217.5 60.7,217.9 61.2,217.7 61.7,217.8 62.2,216.8 62.7,217.2 63.2,217.5 63.7,217.6 64.2,217.6 64.7,217.6 65.2,217.5 65.7,217.5 66.2,216.0 66.7,217.4 67.2,217.6 67.7,216.9 68.2,217.7 68.7,217.5 69.2,217.8 69.7,217.1 70.2,217.8 70.7,217.2 71.2,217.8 71.7,217.6 72.2,217.7 72.7,217.6 73.2,217.6 73.7,217.5 74.2,217.6 74.7,217.8 75.2,217.7 75.7,217.8 76.2,217.9 76.7,217.3 77.2,217.6 77.7,217.7 78.2,217.7 78.7,216.8 79.2,217.5 79.7,217.8 80.2,217.4 80.7,217.5 81.2,217.8 81.7,217.8 82.2,217.4 82.7,217.7 83.2,217.6 83.7,217.5 84.2,217.7 84.7,217.6 85.2,217.7 85.7,217.7 86.2,217.8 86.7,217.6 87.2,217.7 87.7,217.7 88.2,217.7 88.7,216.9 89.2,216.9 89.7,217.7 90.2,217.4 90.7,217.8 91.2,217.9 91.7,215.7 92.2,217.7 92.7,217.6 93.2,217.9 93.7,216.9 94.2,217.0 94.7,217.7 95.2,217.4 95.7,217.2 96.2,217.2 96.7,217.8 97.2,217.5 97.7,215.5 98.2,217.9 98.7,217.8 99.2,217.8 99.7,217.6 100.2,217.2 100.7,216.7 101.2,217.9 101.7,217.3 102.2,217.5 102.7,217.8 103.2,217.4 103.7,217.4 104.2,217.8 104.7,217.3 105.2,217.8 105.7,217.8 106.2,217.6 106.7,217.7 107.2,217.7 107.7,217.9 108.2,217.5 108.7,217.8 109.2,217.6 109.7,217.7 110.2,217.3 110.7,217.7 111.2,217.4 111.7,217.3 112.2,217.3 112.7,217.1 113.2,217.7 113.7,217.2 114.2,217.1 114.7,217.5 115.2,217.2 115.7,217.3 116.2,217.4 116.7,217.4 117.2,217.4 117.7,216.9 118.2,216.8 118.7,216.5 119.2,214.9 119.7,216.9 120.2,216.3 120.7,216.3 121.2,216.4 121.7,215.9 122.2,215.6 122.7,215.9 123.2,215.5 123.7,215.9 124.2,215.6 124.7,215.9 125.2,215.1 125.7,215.6 126.2,215.3 126.7,215.8 127.2,216.0 127.7,215.6 128.2,215.5 128.7,216.0 129.2,216.0 129.7,215.5 130.2,215.6 130.7,215.6 131.2,215.9 131.7,215.5 132.2,215.3 132.7,215.7 133.2,215.1 133.7,215.7 134.2,215.9 134.7,216.0 135.2,215.7 135.7,215.7 136.2,216.1 136.7,215.6 137.2,216.0 137.7,216.0 138.2,215.8 138.7,216.0 139.2,215.7 139.7,215.4 140.2,216.0 140.7,215.7 141.2,216.0 141.7,215.9 142.2,215.4 142.7,216.2 143.2,215.8 143.7,216.1 144.2,215.6 144.7,216.3 145.2,215.8 145.7,216.1 145.7,221.1 145.2,219.2 144.7,219.3 144.2,219.1 143.7,218.8 143.2,218.7 142.7,219.4 142.2,218.7 141.7,220.9 141.2,218.8 140.7,218.7 140.2,218.7 139.7,219.1 139.2,219.4 138.7,218.8 138.2,218.8 137.7,218.6 137.2,219.1 136.7,218.8 136.2,218.8 135.7,218.7 135.2,218.6 134.7,219.5 134.2,218.8 133.7,219.0 133.2,218.5 132.7,218.5 132.2,219.2 131.7,218.8 131.2,218.5 130.7,218.5 130.2,219.1 129.7,219.3 129.2,219.0 128.7,218.6 128.2,218.8 127.7,218.6 127.2,218.6 126.7,219.2 126.2,218.4 125.7,219.3 125.2,218.7 124.7,218.5 124.2,218.7 123.7,218.8 123.2,218.7 122.7,218.5 122.2,219.2 121.7,219.0 121.2,219.1 120.7,219.9 120.2,219.4 119.7,219.8 119.2,220.0 118.7,219.7 118.2,220.1 117.7,220.2 117.2,220.1 116.7,220.2 116.2,220.6 115.7,220.7 115.2,220.3 114.7,220.5 114.2,220.2 113.7,220.2 113.2,220.3 112.7,220.3 112.2,220.6 111.7,220.6 111.2,220.4 110.7,220.8 110.2,220.9 109.7,220.5 109.2,220.4 108.7,220.3 108.2,220.3 107.7,220.5 107.2,220.7 106.7,220.3 106.2,220.5 105.7,220.5 105.2,220.4 104.7,220.5 104.2,220.6 103.7,220.5 103.2,220.4 102.7,221.3 102.2,220.7 101.7,220.4 101.2,220.7 100.7,221.1 100.2,220.3 99.7,220.8 99.2,220.4 98.7,220.5 98.2,220.9 97.7,221.6 97.2,220.4 96.7,220.7 96.2,220.5 95.7,220.3 95.2,220.3 94.7,220.6 94.2,220.5 93.7,220.3 93.2,220.8 92.7,220.4 92.2,220.5 91.7,220.4 91.2,220.4 90.7,220.3 90.2,221.2 89.7,220.5 89.2,220.4 88.7,220.3 88.2,221.2 87.7,220.5 87.2,220.9 86.7,220.8 86.2,221.0 85.7,220.4 85.2,220.6 84.7,220.4 84.2,220.5 83.7,220.5 83.2,220.7 82.7,220.4 82.2,221.0 81.7,221.6 81.2,223.0 80.7,220.5 80.2,220.5 79.7,221.8 79.2,220.9 78.7,221.7 78.2,221.5 77.7,221.0 77.2,220.5 76.7,220.4 76.2,220.5 75.7,220.5 75.2,220.3 74.7,220.3 74.2,220.8 73.7,220.5 73.2,220.7 72.7,220.4 72.2,220.8 71.7,221.2 71.2,221.5 70.7,220.8 70.2,220.6 69.7,220.6 69.2,220.4 68.7,220.3 68.2,220.4 67.7,220.6 67.2,220.5 66.7,220.5 66.2,220.5 65.7,220.4 65.2,220.5 64.7,220.6 64.2,221.0 63.7,221.2 63.2,220.8 62.7,220.6 62.2,220.5 61.7,220.8 61.2,220.4 60.7,220.4 60.2,221.9 59.7,220.4 59.2,220.6 58.7,220.9 58.2,220.6 57.7,220.4 57.2,220.7 56.7,222.1 56.2,220.5 55.7,220.8 55.2,220.4 54.7,220.6 54.2,220.5 53.7,220.5 53.2,220.8 52.7,221.0 52.2,220.5 51.7,220.9 51.2,221.0 50.7,220.4 50.2,220.9 49.7,221.3 49.2,220.5 48.7,221.0 48.2,220.5 47.7,220.3 47.2,220.4 46.7,220.6 46.2,220.4 45.7,220.4 45.2,220.5 44.7,220.4 44.2,220.4 43.7,220.4 43.2,220.5 42.7,220.9 42.2,220.8 41.7,220.5Z" fill="#000"/>
<path d="M41.70,335.50 42.20,335.50 42.70,335.50 43.20,335.50 43.70,335.50 44.20,335.50 44.70,335.50 45.20,335.50 45.70,335.50 46.20,335.50 46.70,335.50 47.20,335.50 47.70,335.50 48.20,335.50 48.70,335.50 49.20,335.50 49.70,335.50 50.20,335.50 50.70,335.50 51.20,335.50 51.70,335.50 52.20,335.50 52.70,335.50 53.20,335.50 53.70,335.50 54.20,335.50 54.70,335.50 55.20,335.50 55.70,335.50 56.20,335.50 56.70,335.50 57.20,335.50 57.70,335.50 58.20,335.50 58.70,335.50 59.20,335.50 59.70,335.50 60.20,335.50 60.70,335.50 61.20,335.50 61.70,335.50 62.20,335.50 62.70,335.50 63.20,335.50 63.70,335.50 64.20,335.50 64.70,335.50 65.20,335.50 65.70,335.50 66.20,335.50 66.70,335.50 67.20,335.50 67.70,335.50 68.20,335.50 68.70,335.50 69.20,335.36 69.70,334.63 70.20,333.44 70.70,331.79 71.20,328.32 71.70,324.13 72.20,320.87 72.70,318.34 73.20,316.08 73.70,314.25 74.20,312.92 74.70,311.80 75.20,310.81 75.70,309.96 76.20,309.27 76.70,308.75 77.20,308.40 77.70,308.11 78.20,307.85 78.70,307.63 79.20,307.43 79.70,307.26 80.20,307.09 80.70,306.94 81.20,306.79 81.70,306.63 82.20,306.47 82.70,306.30 83.20,306.13 83.70,305.96 84.20,305.80 84.70,305.63 85.20,305.46 85.70,305.30 86.20,305.15 86.70,305.00 87.20,304.86 87.70,304.72 88.20,304.60 88.70,304.49 89.20,304.38 89.70,304.29 90.20,304.22 90.70,304.16 91.20,304.11 91.70,304.08 92.20,304.06 92.70,304.03 93.20,304.01 93.70,303.99 94.20,303.97 94.70,303.95 95.20,303.94 95.70,303.92 96.20,303.91 96.70,303.89 97.20,303.88 97.70,303.87 98.20,303.86 98.70,303.85 99.20,303.84 99.70,303.82 100.20,303.81 100.70,303.80 101.20,303.79 101.70,303.78 102.20,303.76 102.70,303.75 103.20,303.73 103.70,303.72 104.20,303.70 104.70,303.68 105.20,303.66 105.70,303.63 106.20,303.61 106.70,303.58 107.20,303.55 107.70,303.52 108.20,303.49 108.70,303.46 109.20,303.43 109.70,303.40 110.20,303.37 110.70,303.34 111.20,303.31 111.70,303.28 112.20,303.25 112.70,303.22 113.20,303.20 113.70,303.18 114.20,303.16 114.70,303.14 115.20,303.13 115.70,303.11 116.20,303.11 116.70,303.10 117.20,303.10 117.70,303.12 118.20,303.16 118.70,303.23 119.20,303.33 119.70,303.67 120.20,305.84 120.70,309.16 121.20,312.43 121.70,316.19 122.20,320.11 122.70,323.00 123.20,324.88 123.70,326.50 124.20,327.84 124.70,328.85 125.20,329.50 125.70,329.99 126.20,330.42 126.70,330.80 127.20,331.12 127.70,331.41 128.20,331.66 128.70,331.88 129.20,332.07 129.70,332.24 130.20,332.39 130.70,332.53 131.20,332.67 131.70,332.79 132.20,332.90 132.70,333.01 133.20,333.11 133.70,333.20 134.20,333.29 134.70,333.37 135.20,333.44 135.70,333.51 136.20,333.58 136.70,333.64 137.20,333.69 137.70,333.75 138.20,333.80 138.70,333.84 139.20,333.89 139.70,333.93 140.20,333.97 140.70,334.01 141.20,334.05 141.70,334.09 142.20,334.12 142.70,334.16 143.20,334.20 143.70,334.24 144.20,334.28" fill="none" stroke="#111" stroke-width="0.9" stroke-linejoin="round"/>
<text x="119.00" y="247.90" font-size="10.3" text-anchor="middle" font-weight="bold" textLength="29.8" lengthAdjust="spacingAndGlyphs" fill="#000">OSM-9</text>
<line x1="195.50" y1="206.20" x2="195.50" y2="291.80" stroke="#222" stroke-width="1.0" stroke-linecap="butt"/>
<line x1="190.60" y1="211.50" x2="195.60" y2="211.50" stroke="#222" stroke-width="1" stroke-linecap="butt"/>
<text x="189.80" y="214.90" font-size="10.4" text-anchor="end" fill="#000">0</text>
<line x1="190.60" y1="229.50" x2="195.60" y2="229.50" stroke="#222" stroke-width="1" stroke-linecap="butt"/>
<text x="189.80" y="233.53" font-size="10.4" text-anchor="end" fill="#000">-0.1</text>
<line x1="190.60" y1="248.50" x2="195.60" y2="248.50" stroke="#222" stroke-width="1" stroke-linecap="butt"/>
<text x="189.80" y="252.15" font-size="10.4" text-anchor="end" fill="#000">-0.2</text>
<line x1="190.60" y1="266.50" x2="195.60" y2="266.50" stroke="#222" stroke-width="1" stroke-linecap="butt"/>
<text x="189.80" y="270.78" font-size="10.4" text-anchor="end" fill="#000">-0.3</text>
<line x1="190.60" y1="285.50" x2="195.60" y2="285.50" stroke="#222" stroke-width="1" stroke-linecap="butt"/>
<text x="189.80" y="289.40" font-size="10.4" text-anchor="end" fill="#000">-0.4</text>
<line x1="195.50" y1="297.20" x2="195.50" y2="348.40" stroke="#222" stroke-width="1.0" stroke-linecap="butt"/>
<line x1="190.60" y1="301.50" x2="195.60" y2="301.50" stroke="#222" stroke-width="1" stroke-linecap="butt"/>
<text x="189.80" y="305.10" font-size="11.0" text-anchor="end" fill="#000">35</text>
<line x1="190.60" y1="316.50" x2="195.60" y2="316.50" stroke="#222" stroke-width="1" stroke-linecap="butt"/>
<text x="189.80" y="320.67" font-size="11.0" text-anchor="end" fill="#000">30</text>
<line x1="190.60" y1="332.50" x2="195.60" y2="332.50" stroke="#222" stroke-width="1" stroke-linecap="butt"/>
<text x="189.80" y="336.23" font-size="11.0" text-anchor="end" fill="#000">25</text>
<line x1="190.60" y1="347.50" x2="195.60" y2="347.50" stroke="#222" stroke-width="1" stroke-linecap="butt"/>
<text x="189.80" y="351.80" font-size="11.0" text-anchor="end" fill="#000">20</text>
<line x1="195.10" y1="347.50" x2="299.10" y2="347.50" stroke="#222" stroke-width="1.2" stroke-linecap="butt"/>
<line x1="195.50" y1="347.90" x2="195.50" y2="352.40" stroke="#222" stroke-width="1" stroke-linecap="butt"/>
<text x="195.60" y="362.90" font-size="10.8" text-anchor="middle" fill="#000">0</text>
<line x1="221.50" y1="347.90" x2="221.50" y2="352.40" stroke="#222" stroke-width="1" stroke-linecap="butt"/>
<text x="221.35" y="362.90" font-size="10.8" text-anchor="middle" fill="#000">30</text>
<line x1="247.50" y1="347.90" x2="247.50" y2="352.40" stroke="#222" stroke-width="1" stroke-linecap="butt"/>
<text x="247.10" y="362.90" font-size="10.8" text-anchor="middle" fill="#000">60</text>
<line x1="272.50" y1="347.90" x2="272.50" y2="352.40" stroke="#222" stroke-width="1" stroke-linecap="butt"/>
<text x="272.85" y="362.90" font-size="10.8" text-anchor="middle" fill="#000">90</text>
<line x1="298.50" y1="347.90" x2="298.50" y2="352.40" stroke="#222" stroke-width="1" stroke-linecap="butt"/>
<text x="298.60" y="362.90" font-size="10.8" text-anchor="middle" fill="#000">120</text>
<text x="249.70" y="373.20" font-size="10.5" text-anchor="middle" textLength="44.6" lengthAdjust="spacingAndGlyphs" fill="#000">Time (sec)</text>
<text x="165.80" y="251.50" font-size="10.5" text-anchor="middle" transform="rotate(-90 165.80 251.50)" textLength="53.5" lengthAdjust="spacingAndGlyphs" fill="#000">Current (µA)</text>
<text x="165.80" y="323.50" font-size="10.5" text-anchor="middle" transform="rotate(-90 165.80 323.50)" textLength="45.0" lengthAdjust="spacingAndGlyphs" fill="#000">Temp. (°C)</text>
<line x1="226.50" y1="206.50" x2="226.50" y2="347.90" stroke="#333" stroke-width="1.4" stroke-dasharray="3.9 2.6" stroke-linecap="butt"/>
<path d="M196.0,219.1 196.5,219.5 197.0,219.3 197.5,217.5 198.0,218.5 198.5,219.3 199.0,219.5 199.5,218.7 200.0,218.8 200.5,219.5 201.0,218.5 201.5,219.0 202.0,218.3 202.5,219.2 203.0,219.4 203.5,219.3 204.0,218.8 204.5,218.7 205.0,218.5 205.5,219.1 206.0,218.9 206.5,218.7 207.0,219.0 207.5,218.8 208.0,218.3 208.5,218.8 209.0,218.3 209.5,218.6 210.0,219.1 210.5,218.7 211.0,219.1 211.5,218.7 212.0,219.1 212.5,218.7 213.0,218.7 213.5,218.7 214.0,218.8 214.5,219.2 215.0,218.7 215.5,218.9 216.0,218.6 216.5,219.0 217.0,217.7 217.5,218.9 218.0,219.0 218.5,218.7 219.0,217.9 219.5,218.9 220.0,218.0 220.5,218.6 221.0,218.9 221.5,218.0 222.0,218.6 222.5,219.0 223.0,218.4 223.5,219.0 224.0,218.9 224.5,218.0 225.0,218.7 225.5,218.1 226.0,219.0 226.5,218.3 227.0,218.0 227.5,218.3 228.0,218.6 228.5,218.9 229.0,218.6 229.5,218.6 230.0,218.6 230.5,218.7 231.0,218.4 231.5,219.0 232.0,218.9 232.5,219.1 233.0,218.6 233.5,218.8 234.0,219.4 234.5,219.4 235.0,219.4 235.5,219.4 236.0,219.1 236.5,219.0 237.0,219.6 237.5,218.9 238.0,219.1 238.5,218.4 239.0,218.9 239.5,219.3 240.0,219.3 240.5,219.8 241.0,219.5 241.5,219.9 242.0,219.9 242.5,220.0 243.0,219.9 243.5,219.6 244.0,219.8 244.5,219.9 245.0,219.6 245.5,219.3 246.0,220.1 246.5,218.3 247.0,218.7 247.5,219.5 248.0,220.0 248.5,219.3 249.0,219.2 249.5,220.1 250.0,220.2 250.5,220.3 251.0,220.3 251.5,220.4 252.0,219.9 252.5,220.5 253.0,220.3 253.5,220.2 254.0,219.8 254.5,220.7 255.0,220.6 255.5,220.3 256.0,219.8 256.5,219.7 257.0,220.6 257.5,220.4 258.0,220.7 258.5,220.4 259.0,220.6 259.5,218.9 260.0,220.4 260.5,220.5 261.0,220.1 261.5,219.9 262.0,220.2 262.5,218.9 263.0,220.2 263.5,219.8 264.0,220.3 264.5,220.4 265.0,219.3 265.5,219.5 266.0,220.0 266.5,219.4 267.0,219.2 267.5,219.4 268.0,219.7 268.5,219.3 269.0,219.9 269.5,218.6 270.0,219.6 270.5,219.2 271.0,219.9 271.5,219.6 272.0,219.6 272.5,218.4 273.0,219.8 273.5,219.4 274.0,218.6 274.5,219.3 275.0,219.7 275.5,219.6 276.0,219.8 276.5,219.7 277.0,219.1 277.5,219.4 278.0,219.4 278.5,219.7 279.0,219.4 279.5,218.7 280.0,219.2 280.5,219.9 281.0,219.9 281.5,219.9 282.0,219.5 282.5,219.8 283.0,220.0 283.5,219.1 284.0,219.7 284.5,219.9 285.0,219.4 285.5,220.1 286.0,220.0 286.5,220.2 287.0,219.9 287.5,220.3 288.0,220.1 288.5,219.7 289.0,220.3 289.5,220.0 290.0,220.3 290.5,220.5 291.0,220.4 291.5,220.3 292.0,220.4 292.5,220.1 293.0,220.7 293.5,218.9 294.0,220.6 294.5,220.6 295.0,219.4 295.5,220.9 296.0,220.3 296.5,221.0 297.0,220.6 297.5,220.7 298.0,220.5 298.5,220.2 299.0,221.0 299.0,224.3 298.5,225.3 298.0,224.3 297.5,224.3 297.0,224.6 296.5,224.3 296.0,224.2 295.5,224.0 295.0,224.7 294.5,225.4 294.0,224.2 293.5,223.9 293.0,224.4 292.5,225.9 292.0,224.0 291.5,223.8 291.0,224.0 290.5,224.7 290.0,223.8 289.5,223.6 289.0,223.4 288.5,224.9 288.0,224.2 287.5,223.5 287.0,223.5 286.5,223.6 286.0,223.4 285.5,223.9 285.0,223.4 284.5,223.2 284.0,223.1 283.5,223.3 283.0,223.1 282.5,223.1 282.0,223.3 281.5,223.3 281.0,224.0 280.5,223.5 280.0,223.6 279.5,223.0 279.0,223.5 278.5,223.0 278.0,223.5 277.5,222.8 277.0,223.7 276.5,222.9 276.0,223.1 275.5,223.4 275.0,223.8 274.5,223.3 274.0,222.9 273.5,223.5 273.0,224.4 272.5,223.4 272.0,223.8 271.5,224.7 271.0,224.3 270.5,223.5 270.0,223.6 269.5,223.4 269.0,223.6 268.5,223.8 268.0,223.4 267.5,223.8 267.0,224.9 266.5,223.4 266.0,223.7 265.5,223.7 265.0,223.9 264.5,223.6 264.0,224.5 263.5,223.9 263.0,224.3 262.5,223.7 262.0,224.5 261.5,224.5 261.0,223.8 260.5,224.2 260.0,224.3 259.5,226.0 259.0,223.9 258.5,224.3 258.0,223.7 257.5,223.7 257.0,224.1 256.5,223.8 256.0,224.7 255.5,223.9 255.0,223.8 254.5,223.8 254.0,224.3 253.5,223.8 253.0,223.7 252.5,224.0 252.0,223.8 251.5,224.2 251.0,224.2 250.5,223.7 250.0,223.8 249.5,224.2 249.0,223.8 248.5,223.5 248.0,223.4 247.5,224.1 247.0,223.9 246.5,223.7 246.0,223.5 245.5,223.8 245.0,224.0 244.5,223.8 244.0,223.2 243.5,223.8 243.0,223.9 242.5,225.0 242.0,224.4 241.5,223.7 241.0,223.0 240.5,223.2 240.0,223.0 239.5,223.3 239.0,224.3 238.5,224.2 238.0,223.1 237.5,223.0 237.0,222.7 236.5,223.5 236.0,222.7 235.5,223.3 235.0,222.6 234.5,222.6 234.0,222.4 233.5,223.1 233.0,222.8 232.5,222.7 232.0,222.6 231.5,222.5 231.0,222.8 230.5,223.1 230.0,223.1 229.5,222.5 229.0,222.5 228.5,222.3 228.0,222.7 227.5,222.8 227.0,223.0 226.5,222.3 226.0,222.4 225.5,222.4 225.0,222.3 224.5,222.4 224.0,222.9 223.5,222.7 223.0,222.2 222.5,222.6 222.0,222.5 221.5,223.1 221.0,222.2 220.5,223.5 220.0,223.2 219.5,222.6 219.0,222.3 218.5,223.1 218.0,222.6 217.5,222.7 217.0,223.0 216.5,223.2 216.0,222.4 215.5,222.4 215.0,222.3 214.5,223.5 214.0,223.0 213.5,222.2 213.0,222.7 212.5,222.4 212.0,222.5 211.5,222.3 211.0,222.5 210.5,222.5 210.0,223.4 209.5,222.5 209.0,223.1 208.5,222.5 208.0,222.6 207.5,223.3 207.0,222.6 206.5,223.3 206.0,222.8 205.5,222.4 205.0,224.3 204.5,222.9 204.0,223.7 203.5,223.0 203.0,223.2 202.5,222.8 202.0,223.5 201.5,223.9 201.0,222.9 200.5,223.6 200.0,223.4 199.5,223.9 199.0,222.8 198.5,222.9 198.0,222.6 197.5,222.9 197.0,222.9 196.5,223.5 196.0,222.9Z" fill="#000"/>
<path d="M196.00,325.50 196.50,325.41 197.00,325.31 197.50,325.21 198.00,325.10 198.50,324.99 199.00,324.88 199.50,324.77 200.00,324.67 200.50,324.59 201.00,324.51 201.50,324.46 202.00,324.42 202.50,324.40 203.00,324.40 203.50,324.40 204.00,324.40 204.50,324.40 205.00,324.40 205.50,324.40 206.00,324.40 206.50,324.41 207.00,324.41 207.50,324.41 208.00,324.41 208.50,324.41 209.00,324.42 209.50,324.42 210.00,324.42 210.50,324.43 211.00,324.43 211.50,324.44 212.00,324.44 212.50,324.45 213.00,324.45 213.50,324.46 214.00,324.47 214.50,324.47 215.00,324.48 215.50,324.49 216.00,324.49 216.50,324.50 217.00,324.51 217.50,324.52 218.00,324.53 218.50,324.54 219.00,324.55 219.50,324.56 220.00,324.58 220.50,324.59 221.00,324.60 221.50,324.61 222.00,324.63 222.50,324.64 223.00,324.66 223.50,324.67 224.00,324.69 224.50,324.72 225.00,324.81 225.50,324.96 226.00,325.10 226.50,325.19 227.00,325.07 227.50,324.40 228.00,323.33 228.50,322.09 229.00,320.91 229.50,319.84 230.00,318.68 230.50,317.46 231.00,316.25 231.50,315.09 232.00,314.05 232.50,313.16 233.00,312.33 233.50,311.54 234.00,310.79 234.50,310.09 235.00,309.43 235.50,308.83 236.00,308.29 236.50,307.81 237.00,307.36 237.50,306.94 238.00,306.54 238.50,306.16 239.00,305.81 239.50,305.49 240.00,305.19 240.50,304.93 241.00,304.69 241.50,304.47 242.00,304.27 242.50,304.08 243.00,303.90 243.50,303.73 244.00,303.57 244.50,303.42 245.00,303.28 245.50,303.15 246.00,303.02 246.50,302.91 247.00,302.81 247.50,302.72 248.00,302.63 248.50,302.55 249.00,302.48 249.50,302.41 250.00,302.34 250.50,302.27 251.00,302.21 251.50,302.15 252.00,302.09 252.50,302.04 253.00,301.98 253.50,301.93 254.00,301.88 254.50,301.84 255.00,301.79 255.50,301.75 256.00,301.70 256.50,301.66 257.00,301.62 257.50,301.57 258.00,301.53 258.50,301.49 259.00,301.44 259.50,301.40 260.00,301.35 260.50,301.31 261.00,301.26 261.50,301.22 262.00,301.17 262.50,301.13 263.00,301.09 263.50,301.05 264.00,301.00 264.50,300.96 265.00,300.93 265.50,300.89 266.00,300.85 266.50,300.82 267.00,300.79 267.50,300.76 268.00,300.73 268.50,300.70 269.00,300.68 269.50,300.66 270.00,300.64 270.50,300.63 271.00,300.62 271.50,300.61 272.00,300.60 272.50,300.60 273.00,300.69 273.50,300.91 274.00,301.23 274.50,301.82 275.00,302.97 275.50,304.42 276.00,305.89 276.50,307.10 277.00,308.06 277.50,308.99 278.00,309.87 278.50,310.71 279.00,311.50 279.50,312.23 280.00,312.90 280.50,313.50 281.00,314.05 281.50,314.58 282.00,315.09 282.50,315.57 283.00,316.02 283.50,316.45 284.00,316.85 284.50,317.24 285.00,317.59 285.50,317.93 286.00,318.24 286.50,318.53 287.00,318.82 287.50,319.10 288.00,319.36 288.50,319.62 289.00,319.87 289.50,320.10 290.00,320.32 290.50,320.52 291.00,320.71 291.50,320.88 292.00,321.04 292.50,321.17 293.00,321.30 293.50,321.41 294.00,321.51 294.50,321.60 295.00,321.68 295.50,321.76 296.00,321.84 296.50,321.92 297.00,321.99 297.50,322.06 298.00,322.14 298.50,322.22 299.00,322.30" fill="none" stroke="#444" stroke-width="0.9" stroke-linejoin="round"/>
<text x="268.10" y="248.20" font-size="10.3" text-anchor="middle" font-weight="bold" textLength="29.2" lengthAdjust="spacingAndGlyphs" fill="#000">OCR-2</text>
<line x1="349.50" y1="206.20" x2="349.50" y2="291.30" stroke="#555" stroke-width="1.0" stroke-linecap="butt"/>
<line x1="344.10" y1="211.50" x2="349.10" y2="211.50" stroke="#555" stroke-width="1" stroke-linecap="butt"/>
<text x="342.30" y="214.90" font-size="10.4" text-anchor="end" fill="#000">0</text>
<line x1="344.10" y1="229.50" x2="349.10" y2="229.50" stroke="#555" stroke-width="1" stroke-linecap="butt"/>
<text x="342.30" y="233.53" font-size="10.4" text-anchor="end" fill="#000">-0.1</text>
<line x1="344.10" y1="248.50" x2="349.10" y2="248.50" stroke="#555" stroke-width="1" stroke-linecap="butt"/>
<text x="342.30" y="252.15" font-size="10.4" text-anchor="end" fill="#000">-0.2</text>
<line x1="344.10" y1="266.50" x2="349.10" y2="266.50" stroke="#555" stroke-width="1" stroke-linecap="butt"/>
<text x="342.30" y="270.78" font-size="10.4" text-anchor="end" fill="#000">-0.3</text>
<line x1="344.10" y1="285.50" x2="349.10" y2="285.50" stroke="#555" stroke-width="1" stroke-linecap="butt"/>
<text x="342.30" y="289.40" font-size="10.4" text-anchor="end" fill="#000">-0.4</text>
<line x1="349.50" y1="296.70" x2="349.50" y2="348.40" stroke="#555" stroke-width="1.0" stroke-linecap="butt"/>
<line x1="344.10" y1="300.50" x2="349.10" y2="300.50" stroke="#555" stroke-width="1" stroke-linecap="butt"/>
<text x="342.30" y="304.40" font-size="11.0" text-anchor="end" fill="#000">35</text>
<line x1="344.10" y1="316.50" x2="349.10" y2="316.50" stroke="#555" stroke-width="1" stroke-linecap="butt"/>
<text x="342.30" y="320.20" font-size="11.0" text-anchor="end" fill="#000">30</text>
<line x1="344.10" y1="332.50" x2="349.10" y2="332.50" stroke="#555" stroke-width="1" stroke-linecap="butt"/>
<text x="342.30" y="336.00" font-size="11.0" text-anchor="end" fill="#000">25</text>
<line x1="344.10" y1="347.50" x2="349.10" y2="347.50" stroke="#555" stroke-width="1" stroke-linecap="butt"/>
<text x="342.30" y="351.80" font-size="11.0" text-anchor="end" fill="#000">20</text>
<line x1="348.60" y1="347.50" x2="453.10" y2="347.50" stroke="#555" stroke-width="1.2" stroke-linecap="butt"/>
<line x1="349.50" y1="347.90" x2="349.50" y2="352.40" stroke="#555" stroke-width="1" stroke-linecap="butt"/>
<text x="349.10" y="362.60" font-size="10.8" text-anchor="middle" fill="#000">0</text>
<line x1="374.50" y1="347.90" x2="374.50" y2="352.40" stroke="#555" stroke-width="1" stroke-linecap="butt"/>
<text x="374.98" y="362.60" font-size="10.8" text-anchor="middle" fill="#000">30</text>
<line x1="400.50" y1="347.90" x2="400.50" y2="352.40" stroke="#555" stroke-width="1" stroke-linecap="butt"/>
<text x="400.85" y="362.60" font-size="10.8" text-anchor="middle" fill="#000">60</text>
<line x1="426.50" y1="347.90" x2="426.50" y2="352.40" stroke="#555" stroke-width="1" stroke-linecap="butt"/>
<text x="426.73" y="362.60" font-size="10.8" text-anchor="middle" fill="#000">90</text>
<line x1="452.50" y1="347.90" x2="452.50" y2="352.40" stroke="#555" stroke-width="1" stroke-linecap="butt"/>
<text x="452.60" y="362.60" font-size="10.8" text-anchor="middle" fill="#000">120</text>
<text x="403.15" y="372.70" font-size="10.5" text-anchor="middle" textLength="44.6" lengthAdjust="spacingAndGlyphs" fill="#000">Time (sec)</text>
<text x="318.80" y="252.20" font-size="10.5" text-anchor="middle" transform="rotate(-90 318.80 252.20)" textLength="53.5" lengthAdjust="spacingAndGlyphs" fill="#000">Current (µA)</text>
<text x="318.80" y="323.60" font-size="10.5" text-anchor="middle" transform="rotate(-90 318.80 323.60)" textLength="45.0" lengthAdjust="spacingAndGlyphs" fill="#000">Temp. (°C)</text>
<line x1="375.50" y1="206.50" x2="375.50" y2="347.90" stroke="#333" stroke-width="1.4" stroke-dasharray="3.9 2.6" stroke-linecap="butt"/>
<path d="M349.4,223.9 349.9,223.9 350.4,224.0 350.9,224.3 351.4,223.0 351.9,223.7 352.4,224.3 352.9,224.2 353.4,223.4 353.9,223.8 354.4,223.2 354.9,223.8 355.4,223.9 355.9,223.7 356.4,224.1 356.9,223.7 357.4,223.4 357.9,223.8 358.4,223.8 358.9,223.7 359.4,223.7 359.9,224.1 360.4,223.5 360.9,224.0 361.4,224.1 361.9,223.0 362.4,223.7 362.9,223.8 363.4,223.8 363.9,223.3 364.4,223.9 364.9,223.3 365.4,223.8 365.9,223.7 366.4,223.6 366.9,223.9 367.4,223.7 367.9,223.6 368.4,222.9 368.9,223.8 369.4,222.9 369.9,223.7 370.4,223.8 370.9,223.8 371.4,223.1 371.9,223.5 372.4,223.5 372.9,223.3 373.4,223.9 373.9,223.4 374.4,223.6 374.9,223.4 375.4,223.7 375.9,223.9 376.4,223.4 376.9,222.9 377.4,223.4 377.9,223.4 378.4,223.8 378.9,223.8 379.4,223.5 379.9,223.7 380.4,222.9 380.9,223.6 381.4,224.0 381.9,223.2 382.4,224.1 382.9,223.8 383.4,223.9 383.9,222.0 384.4,222.9 384.9,224.0 385.4,223.9 385.9,223.7 386.4,224.3 386.9,223.3 387.4,224.4 387.9,223.9 388.4,223.8 388.9,223.5 389.4,224.4 389.9,224.0 390.4,224.3 390.9,222.5 391.4,224.4 391.9,224.1 392.4,224.4 392.9,223.9 393.4,224.5 393.9,224.1 394.4,224.7 394.9,224.0 395.4,224.2 395.9,224.8 396.4,225.0 396.9,225.1 397.4,224.7 397.9,225.2 398.4,225.1 398.9,224.5 399.4,225.4 399.9,225.5 400.4,225.6 400.9,224.4 401.4,225.5 401.9,225.1 402.4,225.2 402.9,225.4 403.4,226.0 403.9,225.0 404.4,225.9 404.9,226.0 405.4,225.6 405.9,226.0 406.4,224.9 406.9,226.4 407.4,226.1 407.9,226.2 408.4,226.3 408.9,225.2 409.4,226.5 409.9,226.3 410.4,226.4 410.9,226.2 411.4,227.0 411.9,226.5 412.4,226.6 412.9,226.4 413.4,227.0 413.9,227.0 414.4,227.3 414.9,226.8 415.4,226.0 415.9,227.2 416.4,227.5 416.9,226.8 417.4,227.4 417.9,226.5 418.4,227.1 418.9,226.3 419.4,226.3 419.9,227.6 420.4,226.8 420.9,227.4 421.4,227.4 421.9,226.8 422.4,226.9 422.9,227.4 423.4,227.4 423.9,227.5 424.4,226.8 424.9,226.2 425.4,226.3 425.9,227.2 426.4,227.5 426.9,227.4 427.4,227.0 427.9,225.9 428.4,227.2 428.9,227.1 429.4,227.2 429.9,227.1 430.4,227.1 430.9,227.3 431.4,226.6 431.9,226.4 432.4,226.3 432.9,227.3 433.4,226.3 433.9,227.2 434.4,226.6 434.9,227.3 435.4,226.6 435.9,226.7 436.4,226.3 436.9,227.0 437.4,227.0 437.9,226.6 438.4,227.3 438.9,226.6 439.4,226.8 439.9,226.3 440.4,227.2 440.9,227.3 441.4,227.2 441.9,227.1 442.4,226.8 442.9,227.2 443.4,227.1 443.9,227.1 444.4,226.9 444.9,227.3 445.4,227.1 445.9,227.4 446.4,226.8 446.9,227.3 447.4,227.3 447.9,227.8 448.4,227.7 448.9,227.4 449.4,226.9 449.9,227.4 450.4,227.3 450.9,227.5 451.4,227.9 451.9,227.4 451.9,231.6 451.4,232.8 450.9,232.5 450.4,232.7 449.9,232.6 449.4,232.3 448.9,232.2 448.4,232.0 447.9,234.3 447.4,231.9 446.9,231.8 446.4,231.5 445.9,231.5 445.4,232.4 444.9,231.1 444.4,232.2 443.9,231.6 443.4,231.5 442.9,231.7 442.4,232.4 441.9,231.9 441.4,231.0 440.9,231.8 440.4,232.2 439.9,231.0 439.4,230.8 438.9,231.7 438.4,231.3 437.9,230.9 437.4,230.8 436.9,231.1 436.4,231.0 435.9,231.5 435.4,230.9 434.9,231.4 434.4,230.7 433.9,231.3 433.4,230.8 432.9,231.8 432.4,231.6 431.9,231.3 431.4,231.2 430.9,231.1 430.4,232.2 429.9,231.0 429.4,231.3 428.9,231.9 428.4,231.4 427.9,231.2 427.4,231.6 426.9,230.9 426.4,230.9 425.9,231.0 425.4,231.8 424.9,231.3 424.4,231.1 423.9,231.2 423.4,231.3 422.9,232.7 422.4,231.1 421.9,231.6 421.4,231.2 420.9,232.6 420.4,231.8 419.9,232.3 419.4,231.8 418.9,231.8 418.4,231.2 417.9,231.4 417.4,232.1 416.9,231.4 416.4,231.5 415.9,231.4 415.4,231.1 414.9,230.8 414.4,230.9 413.9,230.9 413.4,231.2 412.9,231.6 412.4,231.5 411.9,230.9 411.4,231.0 410.9,233.2 410.4,230.6 409.9,231.9 409.4,230.4 408.9,230.3 408.4,230.7 407.9,230.2 407.4,230.3 406.9,230.3 406.4,231.5 405.9,230.7 405.4,229.9 404.9,230.8 404.4,230.6 403.9,230.3 403.4,229.9 402.9,229.4 402.4,229.7 401.9,229.7 401.4,229.3 400.9,230.1 400.4,229.2 399.9,230.3 399.4,229.3 398.9,230.1 398.4,229.6 397.9,229.3 397.4,228.9 396.9,229.0 396.4,229.1 395.9,228.6 395.4,228.6 394.9,228.6 394.4,228.7 393.9,228.3 393.4,228.3 392.9,228.8 392.4,229.0 391.9,228.2 391.4,228.2 390.9,228.4 390.4,228.3 389.9,228.1 389.4,228.1 388.9,229.1 388.4,228.9 387.9,228.4 387.4,228.7 386.9,227.8 386.4,228.2 385.9,228.1 385.4,228.2 384.9,228.1 384.4,228.6 383.9,228.2 383.4,227.9 382.9,228.0 382.4,228.2 381.9,228.2 381.4,227.8 380.9,227.8 380.4,228.3 379.9,227.5 379.4,227.7 378.9,227.7 378.4,227.5 377.9,227.5 377.4,227.7 376.9,227.8 376.4,227.8 375.9,227.5 375.4,227.5 374.9,227.8 374.4,228.0 373.9,227.4 373.4,227.6 372.9,227.4 372.4,227.4 371.9,227.3 371.4,227.6 370.9,227.9 370.4,228.5 369.9,227.8 369.4,228.3 368.9,227.9 368.4,227.6 367.9,227.7 367.4,227.7 366.9,227.7 366.4,228.3 365.9,228.5 365.4,228.0 364.9,227.8 364.4,228.0 363.9,228.1 363.4,227.5 362.9,228.1 362.4,227.5 361.9,229.3 361.4,227.6 360.9,228.8 360.4,229.4 359.9,228.7 359.4,227.6 358.9,228.4 358.4,228.1 357.9,229.3 357.4,227.9 356.9,228.0 356.4,228.1 355.9,228.6 355.4,227.9 354.9,227.8 354.4,228.0 353.9,228.6 353.4,229.1 352.9,227.9 352.4,228.2 351.9,228.3 351.4,228.7 350.9,228.7 350.4,228.7 349.9,228.3 349.4,227.9Z" fill="#000"/>
<path d="M349.40,328.50 349.90,328.50 350.40,328.50 350.90,328.50 351.40,328.50 351.90,328.50 352.40,328.50 352.90,328.50 353.40,328.50 353.90,328.50 354.40,328.50 354.90,328.50 355.40,328.50 355.90,328.50 356.40,328.50 356.90,328.50 357.40,328.50 357.90,328.50 358.40,328.50 358.90,328.50 359.40,328.50 359.90,328.50 360.40,328.50 360.90,328.50 361.40,328.50 361.90,328.50 362.40,328.50 362.90,328.50 363.40,328.50 363.90,328.50 364.40,328.50 364.90,328.50 365.40,328.50 365.90,328.50 366.40,328.50 366.90,328.50 367.40,328.50 367.90,328.50 368.40,328.50 368.90,328.50 369.40,328.50 369.90,328.50 370.40,328.50 370.90,328.50 371.40,328.50 371.90,328.50 372.40,328.50 372.90,328.50 373.40,328.50 373.90,328.50 374.40,328.50 374.90,328.50 375.40,328.34 375.90,327.47 376.40,326.10 376.90,322.70 377.40,318.05 377.90,314.49 378.40,311.14 378.90,308.46 379.40,306.76 379.90,305.40 380.40,304.27 380.90,303.35 381.40,302.62 381.90,302.03 382.40,301.48 382.90,300.99 383.40,300.54 383.90,300.15 384.40,299.82 384.90,299.55 385.40,299.33 385.90,299.17 386.40,299.02 386.90,298.88 387.40,298.76 387.90,298.64 388.40,298.54 388.90,298.44 389.40,298.35 389.90,298.27 390.40,298.20 390.90,298.13 391.40,298.07 391.90,298.01 392.40,297.96 392.90,297.90 393.40,297.85 393.90,297.79 394.40,297.74 394.90,297.69 395.40,297.64 395.90,297.60 396.40,297.56 396.90,297.52 397.40,297.49 397.90,297.46 398.40,297.43 398.90,297.42 399.40,297.41 399.90,297.40 400.40,297.40 400.90,297.40 401.40,297.40 401.90,297.40 402.40,297.40 402.90,297.40 403.40,297.40 403.90,297.40 404.40,297.41 404.90,297.41 405.40,297.41 405.90,297.41 406.40,297.41 406.90,297.42 407.40,297.42 407.90,297.42 408.40,297.42 408.90,297.43 409.40,297.43 409.90,297.43 410.40,297.43 410.90,297.44 411.40,297.44 411.90,297.45 412.40,297.45 412.90,297.45 413.40,297.46 413.90,297.46 414.40,297.47 414.90,297.47 415.40,297.48 415.90,297.48 416.40,297.49 416.90,297.49 417.40,297.50 417.90,297.50 418.40,297.51 418.90,297.52 419.40,297.52 419.90,297.53 420.40,297.55 420.90,297.56 421.40,297.58 421.90,297.60 422.40,297.62 422.90,297.65 423.40,297.68 423.90,297.72 424.40,297.76 424.90,297.81 425.40,297.86 425.90,297.92 426.40,297.99 426.90,298.28 427.40,299.17 427.90,300.55 428.40,303.08 428.90,308.17 429.40,312.38 429.90,315.96 430.40,318.58 430.90,319.93 431.40,320.98 431.90,321.81 432.40,322.44 432.90,322.90 433.40,323.26 433.90,323.58 434.40,323.85 434.90,324.09 435.40,324.30 435.90,324.48 436.40,324.65 436.90,324.80 437.40,324.94 437.90,325.08 438.40,325.20 438.90,325.32 439.40,325.43 439.90,325.54 440.40,325.64 440.90,325.73 441.40,325.81 441.90,325.89 442.40,325.97 442.90,326.04 443.40,326.10 443.90,326.16 444.40,326.21 444.90,326.27 445.40,326.31 445.90,326.36 446.40,326.40 446.90,326.44 447.40,326.48 447.90,326.52 448.40,326.56 448.90,326.60 449.40,326.63 449.90,326.67 450.40,326.70 450.90,326.74 451.40,326.78 451.90,326.81 452.40,326.85 452.90,326.89" fill="none" stroke="#111" stroke-width="0.9" stroke-linejoin="round"/>
<text x="421.90" y="248.20" font-size="10.3" text-anchor="middle" font-weight="bold" textLength="28.0" lengthAdjust="spacingAndGlyphs" fill="#000">OCR-1</text>
<line x1="51.50" y1="439.20" x2="51.50" y2="527.40" stroke="#222" stroke-width="1.0" stroke-linecap="butt"/>
<line x1="46.60" y1="447.50" x2="51.60" y2="447.50" stroke="#222" stroke-width="1" stroke-linecap="butt"/>
<text x="45.40" y="451.00" font-size="10.4" text-anchor="end" letter-spacing="0.25" fill="#000">0</text>
<line x1="46.60" y1="471.50" x2="51.60" y2="471.50" stroke="#222" stroke-width="1" stroke-linecap="butt"/>
<text x="45.40" y="475.50" font-size="10.4" text-anchor="end" letter-spacing="0.25" fill="#000">-0.1</text>
<line x1="46.60" y1="496.50" x2="51.60" y2="496.50" stroke="#222" stroke-width="1" stroke-linecap="butt"/>
<text x="45.40" y="500.00" font-size="10.4" text-anchor="end" letter-spacing="0.25" fill="#000">-0.2</text>
<line x1="46.60" y1="520.50" x2="51.60" y2="520.50" stroke="#222" stroke-width="1" stroke-linecap="butt"/>
<text x="45.40" y="524.50" font-size="10.4" text-anchor="end" letter-spacing="0.25" fill="#000">-0.3</text>
<line x1="51.50" y1="554.30" x2="51.50" y2="605.70" stroke="#222" stroke-width="1.0" stroke-linecap="butt"/>
<line x1="46.60" y1="554.50" x2="51.60" y2="554.50" stroke="#222" stroke-width="1" stroke-linecap="butt"/>
<text x="45.60" y="558.40" font-size="11.0" text-anchor="end" fill="#000">35</text>
<line x1="46.60" y1="574.50" x2="51.60" y2="574.50" stroke="#222" stroke-width="1" stroke-linecap="butt"/>
<text x="45.60" y="578.65" font-size="11.0" text-anchor="end" fill="#000">25</text>
<line x1="46.60" y1="595.50" x2="51.60" y2="595.50" stroke="#222" stroke-width="1" stroke-linecap="butt"/>
<text x="45.60" y="598.90" font-size="11.0" text-anchor="end" fill="#000">15</text>
<line x1="48.10" y1="564.50" x2="51.60" y2="564.50" stroke="#222" stroke-width="1" stroke-linecap="butt"/>
<line x1="48.10" y1="584.50" x2="51.60" y2="584.50" stroke="#222" stroke-width="1" stroke-linecap="butt"/>
<line x1="51.10" y1="605.50" x2="156.10" y2="605.50" stroke="#222" stroke-width="1.2" stroke-linecap="butt"/>
<line x1="51.50" y1="605.20" x2="51.50" y2="609.70" stroke="#222" stroke-width="1" stroke-linecap="butt"/>
<text x="49.80" y="620.30" font-size="10.2" text-anchor="middle" fill="#000">0</text>
<line x1="77.50" y1="605.20" x2="77.50" y2="609.70" stroke="#222" stroke-width="1" stroke-linecap="butt"/>
<text x="75.80" y="620.30" font-size="10.2" text-anchor="middle" fill="#000">30</text>
<line x1="103.50" y1="605.20" x2="103.50" y2="609.70" stroke="#222" stroke-width="1" stroke-linecap="butt"/>
<text x="101.80" y="620.30" font-size="10.2" text-anchor="middle" fill="#000">60</text>
<line x1="129.50" y1="605.20" x2="129.50" y2="609.70" stroke="#222" stroke-width="1" stroke-linecap="butt"/>
<text x="127.80" y="620.30" font-size="10.2" text-anchor="middle" fill="#000">90</text>
<line x1="155.50" y1="605.20" x2="155.50" y2="609.70" stroke="#222" stroke-width="1" stroke-linecap="butt"/>
<text x="153.80" y="620.30" font-size="10.2" text-anchor="middle" fill="#000">120</text>
<text x="101.00" y="631.40" font-size="10.5" text-anchor="middle" textLength="44.6" lengthAdjust="spacingAndGlyphs" fill="#000">Time (sec)</text>
<text x="19.10" y="483.95" font-size="10.5" text-anchor="middle" transform="rotate(-90 19.10 483.95)" textLength="53.5" lengthAdjust="spacingAndGlyphs" fill="#000">Current (µA)</text>
<text x="19.10" y="577.00" font-size="10.5" text-anchor="middle" transform="rotate(-90 19.10 577.00)" textLength="45.0" lengthAdjust="spacingAndGlyphs" fill="#000">Temp. (°C)</text>
<line x1="78.50" y1="441.80" x2="78.50" y2="605.20" stroke="#666" stroke-width="1.4" stroke-dasharray="3.9 2.6" stroke-linecap="butt"/>
<line x1="130.50" y1="441.80" x2="130.50" y2="605.20" stroke="#333" stroke-width="1.4" stroke-dasharray="3.9 2.6" stroke-linecap="butt"/>
<path d="M52.0,454.5 52.5,455.2 53.0,453.7 53.5,455.0 54.0,454.5 54.5,455.0 55.0,454.9 55.5,454.1 56.0,455.1 56.5,455.2 57.0,454.8 57.5,454.9 58.0,454.9 58.5,455.1 59.0,455.0 59.5,455.0 60.0,455.1 60.5,454.5 61.0,455.1 61.5,454.5 62.0,454.8 62.5,453.5 63.0,455.1 63.5,455.0 64.0,454.6 64.5,454.6 65.0,454.7 65.5,454.9 66.0,454.4 66.5,454.9 67.0,454.0 67.5,455.1 68.0,454.5 68.5,454.7 69.0,455.2 69.5,454.7 70.0,455.1 70.5,455.1 71.0,454.8 71.5,454.8 72.0,454.6 72.5,454.7 73.0,454.9 73.5,454.7 74.0,454.8 74.5,455.1 75.0,454.7 75.5,455.0 76.0,455.1 76.5,454.7 77.0,455.1 77.5,454.7 78.0,455.1 78.5,454.6 79.0,455.1 79.5,454.7 80.0,454.9 80.5,454.7 81.0,455.1 81.5,454.9 82.0,454.9 82.5,454.4 83.0,453.8 83.5,454.7 84.0,454.9 84.5,454.9 85.0,454.9 85.5,455.1 86.0,454.7 86.5,455.0 87.0,454.1 87.5,455.2 88.0,454.9 88.5,453.7 89.0,455.1 89.5,454.7 90.0,455.1 90.5,454.7 91.0,454.8 91.5,455.0 92.0,454.9 92.5,455.0 93.0,454.8 93.5,454.1 94.0,454.9 94.5,454.9 95.0,454.9 95.5,454.9 96.0,455.1 96.5,455.2 97.0,454.9 97.5,455.1 98.0,455.2 98.5,454.9 99.0,454.8 99.5,454.9 100.0,455.1 100.5,454.9 101.0,453.9 101.5,454.6 102.0,454.4 102.5,454.7 103.0,454.3 103.5,454.9 104.0,454.7 104.5,454.9 105.0,454.9 105.5,454.5 106.0,454.2 106.5,454.1 107.0,454.8 107.5,454.9 108.0,454.8 108.5,454.8 109.0,454.5 109.5,454.1 110.0,454.7 110.5,454.6 111.0,454.4 111.5,454.6 112.0,454.5 112.5,454.3 113.0,453.9 113.5,454.1 114.0,454.7 114.5,454.3 115.0,454.4 115.5,454.4 116.0,454.5 116.5,454.5 117.0,451.8 117.5,453.8 118.0,454.5 118.5,454.6 119.0,454.4 119.5,454.3 120.0,454.1 120.5,454.3 121.0,454.6 121.5,454.4 122.0,454.2 122.5,454.3 123.0,454.6 123.5,454.5 124.0,454.1 124.5,454.3 125.0,454.0 125.5,454.3 126.0,454.2 126.5,453.9 127.0,454.4 127.5,454.6 128.0,454.6 128.5,454.3 129.0,454.4 129.5,454.6 130.0,454.6 130.5,454.4 131.0,454.2 131.5,454.3 132.0,454.4 132.5,454.7 133.0,453.7 133.5,454.7 134.0,453.7 134.5,454.2 135.0,454.4 135.5,453.7 136.0,454.7 136.5,454.7 137.0,454.6 137.5,454.2 138.0,454.7 138.5,453.8 139.0,454.7 139.5,454.2 140.0,454.6 140.5,454.7 141.0,454.7 141.5,454.3 142.0,454.0 142.5,453.7 143.0,454.6 143.5,454.4 144.0,454.7 144.5,454.8 145.0,454.8 145.5,454.9 146.0,454.6 146.5,455.0 147.0,454.7 147.5,454.8 148.0,455.0 148.5,454.5 149.0,454.6 149.5,454.5 150.0,454.7 150.5,454.9 151.0,454.8 151.5,453.9 152.0,454.1 152.5,454.4 153.0,454.6 153.5,454.7 154.0,452.9 154.5,455.0 155.0,454.8 155.5,455.0 156.0,454.3 156.0,459.3 155.5,459.2 155.0,458.7 154.5,459.2 154.0,459.2 153.5,458.6 153.0,458.8 152.5,458.9 152.0,460.5 151.5,459.0 151.0,458.9 150.5,458.7 150.0,459.0 149.5,459.3 149.0,458.5 148.5,459.3 148.0,459.3 147.5,460.0 147.0,458.4 146.5,459.1 146.0,458.7 145.5,458.5 145.0,458.6 144.5,458.9 144.0,458.6 143.5,459.1 143.0,458.9 142.5,459.3 142.0,458.8 141.5,458.3 141.0,458.8 140.5,458.6 140.0,458.7 139.5,458.7 139.0,458.4 138.5,458.9 138.0,459.2 137.5,458.9 137.0,458.3 136.5,458.2 136.0,458.3 135.5,458.6 135.0,458.4 134.5,458.3 134.0,458.7 133.5,458.5 133.0,458.4 132.5,458.5 132.0,458.7 131.5,458.4 131.0,458.5 130.5,458.5 130.0,458.1 129.5,458.3 129.0,458.9 128.5,458.3 128.0,458.1 127.5,458.4 127.0,458.1 126.5,458.1 126.0,458.2 125.5,458.2 125.0,458.4 124.5,458.1 124.0,458.2 123.5,458.2 123.0,458.5 122.5,459.6 122.0,458.0 121.5,458.8 121.0,458.4 120.5,458.2 120.0,458.9 119.5,458.5 119.0,458.1 118.5,458.7 118.0,458.9 117.5,458.3 117.0,458.1 116.5,458.6 116.0,458.3 115.5,458.1 115.0,458.2 114.5,459.0 114.0,458.6 113.5,458.4 113.0,458.2 112.5,458.7 112.0,458.5 111.5,459.0 111.0,458.5 110.5,458.7 110.0,458.6 109.5,458.5 109.0,458.5 108.5,458.8 108.0,459.2 107.5,458.9 107.0,458.6 106.5,459.1 106.0,458.9 105.5,458.5 105.0,459.6 104.5,458.7 104.0,458.6 103.5,458.8 103.0,458.9 102.5,461.2 102.0,458.7 101.5,459.0 101.0,459.0 100.5,459.2 100.0,459.2 99.5,459.3 99.0,459.0 98.5,459.1 98.0,459.3 97.5,458.9 97.0,459.3 96.5,458.7 96.0,459.1 95.5,459.1 95.0,459.0 94.5,459.0 94.0,459.1 93.5,459.2 93.0,459.2 92.5,458.9 92.0,459.1 91.5,459.4 91.0,458.9 90.5,459.5 90.0,459.4 89.5,458.7 89.0,459.3 88.5,458.8 88.0,459.5 87.5,459.3 87.0,459.6 86.5,459.1 86.0,459.0 85.5,458.7 85.0,458.8 84.5,458.9 84.0,460.7 83.5,458.6 83.0,458.8 82.5,459.3 82.0,458.7 81.5,459.0 81.0,458.9 80.5,458.8 80.0,459.6 79.5,458.6 79.0,458.8 78.5,459.7 78.0,458.7 77.5,459.2 77.0,459.5 76.5,459.2 76.0,459.1 75.5,459.5 75.0,458.6 74.5,459.2 74.0,458.7 73.5,458.6 73.0,458.8 72.5,458.6 72.0,458.8 71.5,459.1 71.0,458.6 70.5,458.6 70.0,458.8 69.5,459.1 69.0,458.6 68.5,459.2 68.0,459.0 67.5,458.8 67.0,459.2 66.5,458.6 66.0,459.0 65.5,459.1 65.0,458.9 64.5,458.9 64.0,459.0 63.5,458.9 63.0,458.8 62.5,459.2 62.0,459.2 61.5,459.1 61.0,458.7 60.5,459.3 60.0,459.1 59.5,459.0 59.0,459.2 58.5,458.8 58.0,458.8 57.5,459.1 57.0,459.3 56.5,458.8 56.0,459.4 55.5,458.9 55.0,459.1 54.5,458.8 54.0,459.4 53.5,458.8 53.0,459.1 52.5,458.9 52.0,459.8Z" fill="#000"/>
<line x1="121.50" y1="456.00" x2="121.50" y2="461.70" stroke="#333" stroke-width="0.9" stroke-linecap="butt"/>
<line x1="130.50" y1="452.00" x2="130.50" y2="456.00" stroke="#333" stroke-width="0.9" stroke-linecap="butt"/>
<path d="M52.00,574.50 52.50,574.50 53.00,574.50 53.50,574.50 54.00,574.50 54.50,574.50 55.00,574.50 55.50,574.50 56.00,574.50 56.50,574.50 57.00,574.50 57.50,574.50 58.00,574.50 58.50,574.50 59.00,574.50 59.50,574.50 60.00,574.50 60.50,574.50 61.00,574.50 61.50,574.50 62.00,574.50 62.50,574.50 63.00,574.50 63.50,574.50 64.00,574.50 64.50,574.50 65.00,574.50 65.50,574.50 66.00,574.50 66.50,574.50 67.00,574.50 67.50,574.50 68.00,574.50 68.50,574.50 69.00,574.50 69.50,574.50 70.00,574.50 70.50,574.50 71.00,574.50 71.50,574.50 72.00,574.50 72.50,574.50 73.00,574.50 73.50,574.50 74.00,574.50 74.50,574.50 75.00,574.50 75.50,574.50 76.00,574.50 76.50,574.50 77.00,574.50 77.50,574.50 78.00,574.50 78.50,574.50 79.00,574.51 79.50,574.79 80.00,575.36 80.50,576.10 81.00,577.37 81.50,579.27 82.00,581.32 82.50,583.34 83.00,585.56 83.50,587.51 84.00,588.86 84.50,590.01 85.00,591.00 85.50,591.83 86.00,592.49 86.50,593.01 87.00,593.50 87.50,593.94 88.00,594.33 88.50,594.68 89.00,594.97 89.50,595.20 90.00,595.37 90.50,595.49 91.00,595.60 91.50,595.70 92.00,595.79 92.50,595.86 93.00,595.94 93.50,596.00 94.00,596.06 94.50,596.12 95.00,596.17 95.50,596.22 96.00,596.27 96.50,596.32 97.00,596.37 97.50,596.42 98.00,596.48 98.50,596.54 99.00,596.60 99.50,596.67 100.00,596.75 100.50,596.82 101.00,596.89 101.50,596.96 102.00,597.02 102.50,597.08 103.00,597.13 103.50,597.16 104.00,597.19 104.50,597.20 105.00,597.20 105.50,597.20 106.00,597.19 106.50,597.19 107.00,597.18 107.50,597.18 108.00,597.17 108.50,597.16 109.00,597.15 109.50,597.13 110.00,597.12 110.50,597.11 111.00,597.10 111.50,597.08 112.00,597.07 112.50,597.05 113.00,597.04 113.50,597.02 114.00,597.01 114.50,596.99 115.00,596.98 115.50,596.96 116.00,596.95 116.50,596.93 117.00,596.92 117.50,596.90 118.00,596.88 118.50,596.87 119.00,596.85 119.50,596.83 120.00,596.81 120.50,596.79 121.00,596.76 121.50,596.74 122.00,596.71 122.50,596.68 123.00,596.64 123.50,596.61 124.00,596.57 124.50,596.53 125.00,596.48 125.50,596.43 126.00,596.38 126.50,596.33 127.00,596.27 127.50,596.20 128.00,596.13 128.50,596.06 129.00,595.98 129.50,595.90 130.00,595.71 130.50,595.32 131.00,594.74 131.50,593.43 132.00,590.76 132.50,587.65 133.00,584.79 133.50,581.72 134.00,578.54 134.50,575.44 135.00,572.62 135.50,570.03 136.00,567.42 136.50,565.00 137.00,562.99 137.50,561.60 138.00,560.66 138.50,559.85 139.00,559.15 139.50,558.56 140.00,558.09 140.50,557.72 141.00,557.44 141.50,557.19 142.00,556.97 142.50,556.78 143.00,556.60 143.50,556.44 144.00,556.29 144.50,556.16 145.00,556.03 145.50,555.91 146.00,555.80 146.50,555.68 147.00,555.56 147.50,555.45 148.00,555.35 148.50,555.25 149.00,555.15 149.50,555.06 150.00,554.97 150.50,554.89 151.00,554.80 151.50,554.72 152.00,554.64 152.50,554.56 153.00,554.48 153.50,554.39 154.00,554.31 154.50,554.22 155.00,554.14" fill="none" stroke="#111" stroke-width="0.9" stroke-linejoin="round"/>
<text x="105.20" y="437.60" font-size="11.0" text-anchor="middle" font-weight="bold" textLength="15.6" lengthAdjust="spacingAndGlyphs" fill="#000">DW</text>
<line x1="213.50" y1="439.80" x2="213.50" y2="526.50" stroke="#222" stroke-width="1.0" stroke-linecap="butt"/>
<line x1="208.40" y1="446.50" x2="213.40" y2="446.50" stroke="#222" stroke-width="1" stroke-linecap="butt"/>
<text x="205.80" y="450.70" font-size="10.4" text-anchor="end" letter-spacing="0.25" fill="#000">0</text>
<line x1="208.40" y1="471.50" x2="213.40" y2="471.50" stroke="#222" stroke-width="1" stroke-linecap="butt"/>
<text x="205.80" y="475.33" font-size="10.4" text-anchor="end" letter-spacing="0.25" fill="#000">-0.1</text>
<line x1="208.40" y1="496.50" x2="213.40" y2="496.50" stroke="#222" stroke-width="1" stroke-linecap="butt"/>
<text x="205.80" y="499.97" font-size="10.4" text-anchor="end" letter-spacing="0.25" fill="#000">-0.2</text>
<line x1="208.40" y1="520.50" x2="213.40" y2="520.50" stroke="#222" stroke-width="1" stroke-linecap="butt"/>
<text x="205.80" y="524.60" font-size="10.4" text-anchor="end" letter-spacing="0.25" fill="#000">-0.3</text>
<line x1="213.50" y1="553.50" x2="213.50" y2="605.70" stroke="#222" stroke-width="1.0" stroke-linecap="butt"/>
<line x1="208.40" y1="553.50" x2="213.40" y2="553.50" stroke="#222" stroke-width="1" stroke-linecap="butt"/>
<text x="205.80" y="557.40" font-size="11.0" text-anchor="end" fill="#000">35</text>
<line x1="208.40" y1="574.50" x2="213.40" y2="574.50" stroke="#222" stroke-width="1" stroke-linecap="butt"/>
<text x="205.80" y="578.00" font-size="11.0" text-anchor="end" fill="#000">25</text>
<line x1="208.40" y1="594.50" x2="213.40" y2="594.50" stroke="#222" stroke-width="1" stroke-linecap="butt"/>
<text x="205.80" y="598.60" font-size="11.0" text-anchor="end" fill="#000">15</text>
<line x1="209.90" y1="563.50" x2="213.40" y2="563.50" stroke="#222" stroke-width="1" stroke-linecap="butt"/>
<line x1="209.90" y1="584.50" x2="213.40" y2="584.50" stroke="#222" stroke-width="1" stroke-linecap="butt"/>
<line x1="212.90" y1="605.50" x2="318.30" y2="605.50" stroke="#222" stroke-width="1.2" stroke-linecap="butt"/>
<line x1="213.50" y1="605.20" x2="213.50" y2="609.70" stroke="#222" stroke-width="1" stroke-linecap="butt"/>
<text x="213.40" y="620.30" font-size="10.2" text-anchor="middle" fill="#000">0</text>
<line x1="239.50" y1="605.20" x2="239.50" y2="609.70" stroke="#222" stroke-width="1" stroke-linecap="butt"/>
<text x="239.50" y="620.30" font-size="10.2" text-anchor="middle" fill="#000">30</text>
<line x1="265.50" y1="605.20" x2="265.50" y2="609.70" stroke="#222" stroke-width="1" stroke-linecap="butt"/>
<text x="265.60" y="620.30" font-size="10.2" text-anchor="middle" fill="#000">60</text>
<line x1="291.50" y1="605.20" x2="291.50" y2="609.70" stroke="#222" stroke-width="1" stroke-linecap="butt"/>
<text x="291.70" y="620.30" font-size="10.2" text-anchor="middle" fill="#000">90</text>
<line x1="317.50" y1="605.20" x2="317.50" y2="609.70" stroke="#222" stroke-width="1" stroke-linecap="butt"/>
<text x="317.80" y="620.30" font-size="10.2" text-anchor="middle" fill="#000">120</text>
<text x="265.60" y="631.40" font-size="10.5" text-anchor="middle" textLength="44.6" lengthAdjust="spacingAndGlyphs" fill="#000">Time (sec)</text>
<text x="180.20" y="482.80" font-size="10.5" text-anchor="middle" transform="rotate(-90 180.20 482.80)" textLength="53.5" lengthAdjust="spacingAndGlyphs" fill="#000">Current (µA)</text>
<text x="180.20" y="577.30" font-size="10.5" text-anchor="middle" transform="rotate(-90 180.20 577.30)" textLength="45.0" lengthAdjust="spacingAndGlyphs" fill="#000">Temp. (°C)</text>
<line x1="240.50" y1="442.00" x2="240.50" y2="605.20" stroke="#333" stroke-width="1.4" stroke-dasharray="3.9 2.6" stroke-linecap="butt"/>
<line x1="290.50" y1="442.00" x2="290.50" y2="605.20" stroke="#333" stroke-width="1.4" stroke-dasharray="3.9 2.6" stroke-linecap="butt"/>
<path d="M213.8,482.7 214.3,482.8 214.8,482.6 215.3,482.4 215.8,482.6 216.3,483.1 216.8,482.6 217.3,483.2 217.8,483.3 218.3,482.2 218.8,483.3 219.3,482.9 219.8,483.1 220.3,483.4 220.8,482.5 221.3,483.1 221.8,483.5 222.3,483.0 222.8,483.4 223.3,482.6 223.8,482.4 224.3,482.6 224.8,483.1 225.3,483.2 225.8,482.4 226.3,482.9 226.8,482.8 227.3,482.7 227.8,483.4 228.3,483.0 228.8,483.5 229.3,483.2 229.8,483.2 230.3,483.0 230.8,482.5 231.3,483.2 231.8,482.2 232.3,483.4 232.8,483.3 233.3,482.8 233.8,482.5 234.3,483.4 234.8,482.7 235.3,482.8 235.8,483.0 236.3,483.4 236.8,483.0 237.3,482.6 237.8,482.9 238.3,483.2 238.8,482.9 239.3,482.1 239.8,481.9 240.3,481.5 240.8,481.4 241.3,480.5 241.8,480.1 242.3,478.8 242.8,477.5 243.3,478.3 243.8,477.4 244.3,477.7 244.8,477.8 245.3,478.1 245.8,477.6 246.3,477.0 246.8,477.7 247.3,477.5 247.8,477.7 248.3,477.9 248.8,477.6 249.3,477.7 249.8,476.7 250.3,477.6 250.8,476.2 251.3,477.5 251.8,477.2 252.3,477.1 252.8,477.7 253.3,477.5 253.8,477.1 254.3,477.0 254.8,476.8 255.3,477.0 255.8,477.7 256.3,477.7 256.8,477.4 257.3,477.2 257.8,477.2 258.3,477.5 258.8,477.6 259.3,477.1 259.8,477.8 260.3,477.3 260.8,477.3 261.3,477.1 261.8,477.7 262.3,477.9 262.8,476.9 263.3,477.8 263.8,477.7 264.3,477.9 264.8,477.5 265.3,477.5 265.8,477.8 266.3,477.8 266.8,478.0 267.3,475.5 267.8,477.8 268.3,477.9 268.8,477.9 269.3,477.8 269.8,477.8 270.3,477.3 270.8,477.5 271.3,477.8 271.8,477.1 272.3,477.8 272.8,477.8 273.3,477.7 273.8,477.8 274.3,478.0 274.8,477.8 275.3,477.6 275.8,477.2 276.3,476.7 276.8,478.0 277.3,477.9 277.8,477.8 278.3,476.8 278.8,477.1 279.3,477.5 279.8,477.9 280.3,477.9 280.8,478.1 281.3,477.3 281.8,478.2 282.3,478.2 282.8,477.8 283.3,478.2 283.8,477.9 284.3,478.2 284.8,477.9 285.3,477.4 285.8,478.2 286.3,477.7 286.8,478.3 287.3,477.9 287.8,477.1 288.3,478.3 288.8,477.6 289.3,477.8 289.8,478.2 290.3,478.5 290.8,477.4 291.3,478.5 291.8,479.4 292.3,480.1 292.8,480.4 293.3,481.9 293.8,483.4 294.3,484.4 294.8,484.8 295.3,486.4 295.8,487.5 296.3,487.8 296.8,488.7 297.3,488.6 297.8,489.1 298.3,490.1 298.8,491.0 299.3,490.8 299.8,491.1 300.3,491.1 300.8,491.1 301.3,491.6 301.8,491.7 302.3,492.1 302.8,492.0 303.3,492.1 303.8,492.1 304.3,491.9 304.8,491.3 305.3,491.7 305.8,491.9 306.3,492.0 306.8,492.3 307.3,492.7 307.8,492.6 308.3,492.9 308.8,492.9 309.3,493.0 309.8,492.1 310.3,493.2 310.8,491.7 311.3,492.7 311.8,493.4 312.3,492.6 312.8,493.5 313.3,493.2 313.8,493.2 314.3,493.3 314.8,493.5 315.3,493.1 315.8,493.7 316.3,493.4 316.8,493.7 316.8,499.1 316.3,498.6 315.8,498.9 315.3,497.9 314.8,498.0 314.3,498.3 313.8,497.8 313.3,498.0 312.8,497.8 312.3,497.6 311.8,497.7 311.3,498.0 310.8,497.8 310.3,499.0 309.8,497.4 309.3,497.3 308.8,498.0 308.3,497.5 307.8,497.6 307.3,497.0 306.8,499.2 306.3,496.9 305.8,497.6 305.3,496.8 304.8,497.2 304.3,496.6 303.8,496.9 303.3,496.7 302.8,496.6 302.3,496.9 301.8,496.8 301.3,496.0 300.8,496.2 300.3,495.8 299.8,496.3 299.3,495.5 298.8,495.4 298.3,495.0 297.8,495.1 297.3,494.1 296.8,493.1 296.3,492.9 295.8,492.7 295.3,491.8 294.8,490.4 294.3,489.2 293.8,487.5 293.3,486.8 292.8,488.3 292.3,484.9 291.8,484.3 291.3,483.4 290.8,483.1 290.3,483.4 289.8,482.7 289.3,483.4 288.8,482.7 288.3,482.9 287.8,482.5 287.3,482.8 286.8,482.4 286.3,482.8 285.8,482.9 285.3,483.2 284.8,482.3 284.3,482.4 283.8,482.2 283.3,482.2 282.8,482.9 282.3,482.6 281.8,482.4 281.3,484.7 280.8,482.2 280.3,482.2 279.8,482.7 279.3,482.3 278.8,482.3 278.3,482.5 277.8,483.0 277.3,482.2 276.8,483.1 276.3,482.5 275.8,483.4 275.3,482.3 274.8,482.4 274.3,482.3 273.8,482.3 273.3,482.9 272.8,482.8 272.3,482.5 271.8,482.2 271.3,482.2 270.8,482.1 270.3,483.1 269.8,482.7 269.3,482.4 268.8,482.3 268.3,482.1 267.8,484.3 267.3,482.4 266.8,482.9 266.3,483.2 265.8,482.2 265.3,482.8 264.8,482.2 264.3,482.3 263.8,482.3 263.3,482.8 262.8,482.6 262.3,482.6 261.8,482.3 261.3,482.0 260.8,483.7 260.3,482.7 259.8,482.8 259.3,482.6 258.8,483.4 258.3,482.5 257.8,482.3 257.3,482.7 256.8,482.8 256.3,482.5 255.8,481.8 255.3,482.1 254.8,482.4 254.3,482.2 253.8,482.1 253.3,483.0 252.8,482.0 252.3,481.8 251.8,482.0 251.3,482.0 250.8,482.4 250.3,481.9 249.8,482.7 249.3,482.4 248.8,482.8 248.3,482.6 247.8,482.4 247.3,484.2 246.8,482.1 246.3,482.7 245.8,482.2 245.3,483.6 244.8,482.6 244.3,482.4 243.8,482.5 243.3,482.9 242.8,483.4 242.3,484.0 241.8,484.5 241.3,485.4 240.8,486.6 240.3,486.2 239.8,487.5 239.3,487.4 238.8,487.4 238.3,487.6 237.8,487.6 237.3,488.1 236.8,487.7 236.3,488.2 235.8,488.5 235.3,488.6 234.8,488.3 234.3,487.7 233.8,489.7 233.3,488.4 232.8,487.7 232.3,487.8 231.8,488.0 231.3,487.7 230.8,489.0 230.3,488.5 229.8,487.7 229.3,488.3 228.8,488.5 228.3,488.5 227.8,487.7 227.3,488.8 226.8,487.8 226.3,487.7 225.8,488.1 225.3,487.9 224.8,487.9 224.3,488.1 223.8,487.9 223.3,488.3 222.8,488.6 222.3,488.0 221.8,488.4 221.3,489.3 220.8,488.0 220.3,487.6 219.8,488.2 219.3,487.5 218.8,488.2 218.3,488.2 217.8,488.8 217.3,488.2 216.8,488.6 216.3,487.6 215.8,488.1 215.3,487.6 214.8,488.5 214.3,488.1 213.8,488.5Z" fill="#000"/>
<line x1="274.50" y1="480.00" x2="274.50" y2="494.10" stroke="#111" stroke-width="0.9" stroke-linecap="butt"/>
<path d="M213.80,575.50 214.30,575.50 214.80,575.50 215.30,575.50 215.80,575.50 216.30,575.50 216.80,575.50 217.30,575.50 217.80,575.50 218.30,575.50 218.80,575.50 219.30,575.50 219.80,575.50 220.30,575.50 220.80,575.50 221.30,575.50 221.80,575.50 222.30,575.50 222.80,575.50 223.30,575.50 223.80,575.50 224.30,575.50 224.80,575.50 225.30,575.50 225.80,575.50 226.30,575.50 226.80,575.50 227.30,575.50 227.80,575.50 228.30,575.50 228.80,575.50 229.30,575.50 229.80,575.50 230.30,575.50 230.80,575.50 231.30,575.50 231.80,575.50 232.30,575.50 232.80,575.50 233.30,575.50 233.80,575.50 234.30,575.50 234.80,575.50 235.30,575.50 235.80,575.50 236.30,575.50 236.80,575.50 237.30,575.50 237.80,575.50 238.30,575.50 238.80,575.50 239.30,575.50 239.80,575.50 240.30,575.50 240.80,575.74 241.30,576.47 241.80,577.44 242.30,578.96 242.80,580.67 243.30,582.17 243.80,583.64 244.30,585.10 244.80,586.45 245.30,587.61 245.80,588.54 246.30,589.37 246.80,590.14 247.30,590.83 247.80,591.45 248.30,592.00 248.80,592.49 249.30,592.96 249.80,593.40 250.30,593.82 250.80,594.20 251.30,594.55 251.80,594.85 252.30,595.11 252.80,595.30 253.30,595.46 253.80,595.62 254.30,595.77 254.80,595.91 255.30,596.05 255.80,596.17 256.30,596.28 256.80,596.37 257.30,596.45 257.80,596.52 258.30,596.57 258.80,596.59 259.30,596.60 259.80,596.60 260.30,596.60 260.80,596.60 261.30,596.60 261.80,596.60 262.30,596.60 262.80,596.60 263.30,596.60 263.80,596.60 264.30,596.60 264.80,596.60 265.30,596.60 265.80,596.60 266.30,596.60 266.80,596.60 267.30,596.60 267.80,596.60 268.30,596.60 268.80,596.60 269.30,596.60 269.80,596.60 270.30,596.60 270.80,596.60 271.30,596.60 271.80,596.60 272.30,596.60 272.80,596.60 273.30,596.60 273.80,596.60 274.30,596.60 274.80,596.60 275.30,596.60 275.80,596.60 276.30,596.60 276.80,596.61 277.30,596.62 277.80,596.62 278.30,596.63 278.80,596.64 279.30,596.65 279.80,596.67 280.30,596.68 280.80,596.69 281.30,596.71 281.80,596.72 282.30,596.73 282.80,596.75 283.30,596.76 283.80,596.78 284.30,596.79 284.80,596.81 285.30,596.82 285.80,596.83 286.30,596.84 286.80,596.86 287.30,596.87 287.80,596.88 288.30,596.88 288.80,596.89 289.30,596.89 289.80,596.90 290.30,596.90 290.80,596.67 291.30,595.52 291.80,593.88 292.30,592.23 292.80,590.27 293.30,588.09 293.80,585.99 294.30,583.92 294.80,581.83 295.30,579.79 295.80,577.87 296.30,576.11 296.80,574.42 297.30,572.79 297.80,571.31 298.30,570.04 298.80,568.99 299.30,568.02 299.80,567.12 300.30,566.29 300.80,565.53 301.30,564.84 301.80,564.23 302.30,563.69 302.80,563.23 303.30,562.79 303.80,562.39 304.30,562.01 304.80,561.66 305.30,561.34 305.80,561.04 306.30,560.78 306.80,560.54 307.30,560.34 307.80,560.16 308.30,559.99 308.80,559.83 309.30,559.69 309.80,559.55 310.30,559.42 310.80,559.30 311.30,559.19 311.80,559.08 312.30,558.97 312.80,558.87 313.30,558.77 313.80,558.67 314.30,558.58 314.80,558.48 315.30,558.38 315.80,558.27 316.30,558.16 316.80,558.05" fill="none" stroke="#111" stroke-width="0.9" stroke-linejoin="round"/>
<text x="267.30" y="439.50" font-size="10.3" text-anchor="middle" font-weight="bold" textLength="62.5" lengthAdjust="spacingAndGlyphs" fill="#000">OSM-9 OCR-2</text>
<line x1="51.50" y1="644.00" x2="51.50" y2="731.50" stroke="#222" stroke-width="1.0" stroke-linecap="butt"/>
<line x1="46.90" y1="651.50" x2="51.90" y2="651.50" stroke="#222" stroke-width="1" stroke-linecap="butt"/>
<text x="44.30" y="655.40" font-size="10.4" text-anchor="end" letter-spacing="0.25" fill="#000">0</text>
<line x1="46.90" y1="676.50" x2="51.90" y2="676.50" stroke="#222" stroke-width="1" stroke-linecap="butt"/>
<text x="44.30" y="679.93" font-size="10.4" text-anchor="end" letter-spacing="0.25" fill="#000">-0.1</text>
<line x1="46.90" y1="700.50" x2="51.90" y2="700.50" stroke="#222" stroke-width="1" stroke-linecap="butt"/>
<text x="44.30" y="704.47" font-size="10.4" text-anchor="end" letter-spacing="0.25" fill="#000">-0.2</text>
<line x1="46.90" y1="725.50" x2="51.90" y2="725.50" stroke="#222" stroke-width="1" stroke-linecap="butt"/>
<text x="44.30" y="729.00" font-size="10.4" text-anchor="end" letter-spacing="0.25" fill="#000">-0.3</text>
<line x1="51.50" y1="759.40" x2="51.50" y2="811.10" stroke="#222" stroke-width="1.0" stroke-linecap="butt"/>
<line x1="46.90" y1="759.50" x2="51.90" y2="759.50" stroke="#222" stroke-width="1" stroke-linecap="butt"/>
<text x="44.30" y="763.30" font-size="11.0" text-anchor="end" fill="#000">35</text>
<line x1="46.90" y1="779.50" x2="51.90" y2="779.50" stroke="#222" stroke-width="1" stroke-linecap="butt"/>
<text x="44.30" y="783.85" font-size="11.0" text-anchor="end" fill="#000">25</text>
<line x1="46.90" y1="800.50" x2="51.90" y2="800.50" stroke="#222" stroke-width="1" stroke-linecap="butt"/>
<text x="44.30" y="804.40" font-size="11.0" text-anchor="end" fill="#000">15</text>
<line x1="48.40" y1="769.50" x2="51.90" y2="769.50" stroke="#222" stroke-width="1" stroke-linecap="butt"/>
<line x1="48.40" y1="790.50" x2="51.90" y2="790.50" stroke="#222" stroke-width="1" stroke-linecap="butt"/>
<line x1="51.40" y1="810.50" x2="156.10" y2="810.50" stroke="#222" stroke-width="1.2" stroke-linecap="butt"/>
<line x1="51.50" y1="810.60" x2="51.50" y2="815.10" stroke="#222" stroke-width="1" stroke-linecap="butt"/>
<text x="51.90" y="824.80" font-size="10.2" text-anchor="middle" fill="#000">0</text>
<line x1="77.50" y1="810.60" x2="77.50" y2="815.10" stroke="#222" stroke-width="1" stroke-linecap="butt"/>
<text x="77.82" y="824.80" font-size="10.2" text-anchor="middle" fill="#000">30</text>
<line x1="103.50" y1="810.60" x2="103.50" y2="815.10" stroke="#222" stroke-width="1" stroke-linecap="butt"/>
<text x="103.75" y="824.80" font-size="10.2" text-anchor="middle" fill="#000">60</text>
<line x1="129.50" y1="810.60" x2="129.50" y2="815.10" stroke="#222" stroke-width="1" stroke-linecap="butt"/>
<text x="129.67" y="824.80" font-size="10.2" text-anchor="middle" fill="#000">90</text>
<line x1="155.50" y1="810.60" x2="155.50" y2="815.10" stroke="#222" stroke-width="1" stroke-linecap="butt"/>
<text x="155.60" y="824.80" font-size="10.2" text-anchor="middle" fill="#000">120</text>
<text x="103.75" y="835.60" font-size="10.5" text-anchor="middle" textLength="44.6" lengthAdjust="spacingAndGlyphs" fill="#000">Time (sec)</text>
<text x="18.20" y="688.40" font-size="10.5" text-anchor="middle" transform="rotate(-90 18.20 688.40)" textLength="53.5" lengthAdjust="spacingAndGlyphs" fill="#000">Current (µA)</text>
<text x="18.20" y="782.50" font-size="10.5" text-anchor="middle" transform="rotate(-90 18.20 782.50)" textLength="45.0" lengthAdjust="spacingAndGlyphs" fill="#000">Temp. (°C)</text>
<line x1="78.50" y1="644.50" x2="78.50" y2="810.60" stroke="#222" stroke-width="1.4" stroke-dasharray="3.9 2.6" stroke-linecap="butt"/>
<line x1="128.50" y1="644.50" x2="128.50" y2="810.60" stroke="#888" stroke-width="1.4" stroke-dasharray="3.9 2.6" stroke-linecap="butt"/>
<path d="M52.3,660.3 52.8,660.4 53.3,660.4 53.8,660.1 54.3,660.0 54.8,660.5 55.3,660.3 55.8,660.3 56.3,660.3 56.8,660.4 57.3,660.2 57.8,659.7 58.3,659.7 58.8,660.4 59.3,660.1 59.8,660.4 60.3,660.4 60.8,659.9 61.3,659.6 61.8,660.2 62.3,659.5 62.8,660.2 63.3,659.4 63.8,660.1 64.3,660.3 64.8,660.3 65.3,659.9 65.8,660.4 66.3,659.5 66.8,660.3 67.3,660.4 67.8,660.1 68.3,659.5 68.8,660.1 69.3,659.2 69.8,660.2 70.3,659.2 70.8,659.5 71.3,660.0 71.8,660.1 72.3,660.3 72.8,659.9 73.3,659.8 73.8,660.1 74.3,659.1 74.8,660.2 75.3,660.0 75.8,659.7 76.3,659.6 76.8,660.0 77.3,658.1 77.8,659.9 78.3,659.4 78.8,659.9 79.3,659.9 79.8,660.2 80.3,660.2 80.8,659.5 81.3,659.2 81.8,658.9 82.3,660.1 82.8,658.7 83.3,659.6 83.8,659.8 84.3,660.3 84.8,659.7 85.3,658.8 85.8,659.1 86.3,660.2 86.8,659.9 87.3,660.0 87.8,660.2 88.3,659.2 88.8,660.0 89.3,660.2 89.8,659.9 90.3,659.3 90.8,660.1 91.3,660.2 91.8,659.8 92.3,660.1 92.8,660.1 93.3,659.0 93.8,660.1 94.3,659.9 94.8,659.8 95.3,660.2 95.8,659.8 96.3,659.5 96.8,659.7 97.3,659.1 97.8,660.1 98.3,659.9 98.8,658.6 99.3,658.9 99.8,659.7 100.3,659.9 100.8,660.0 101.3,659.8 101.8,660.2 102.3,660.0 102.8,660.0 103.3,660.2 103.8,660.0 104.3,659.6 104.8,660.1 105.3,659.8 105.8,660.1 106.3,659.9 106.8,659.4 107.3,659.9 107.8,660.0 108.3,659.5 108.8,659.9 109.3,659.9 109.8,659.5 110.3,660.1 110.8,659.9 111.3,660.0 111.8,658.9 112.3,659.8 112.8,659.1 113.3,659.7 113.8,659.8 114.3,659.4 114.8,659.5 115.3,658.2 115.8,659.9 116.3,659.9 116.8,659.8 117.3,659.4 117.8,659.3 118.3,659.9 118.8,659.5 119.3,659.8 119.8,659.4 120.3,659.9 120.8,659.4 121.3,660.0 121.8,659.5 122.3,659.2 122.8,659.8 123.3,660.0 123.8,659.9 124.3,659.4 124.8,658.1 125.3,659.7 125.8,659.9 126.3,659.9 126.8,659.7 127.3,659.5 127.8,659.5 128.3,659.9 128.8,659.8 129.3,659.4 129.8,659.5 130.3,658.7 130.8,659.2 131.3,659.7 131.8,659.6 132.3,659.7 132.8,659.4 133.3,659.8 133.8,659.7 134.3,659.9 134.8,659.4 135.3,659.5 135.8,659.8 136.3,659.1 136.8,658.9 137.3,659.5 137.8,659.6 138.3,659.5 138.8,659.7 139.3,659.8 139.8,658.5 140.3,659.4 140.8,659.7 141.3,659.1 141.8,659.7 142.3,659.6 142.8,659.3 143.3,659.6 143.8,659.4 144.3,659.7 144.8,658.5 145.3,659.6 145.8,659.6 146.3,659.2 146.8,659.4 147.3,659.1 147.8,659.7 148.3,659.7 148.8,659.6 149.3,659.6 149.8,659.4 150.3,659.4 150.8,659.5 151.3,657.7 151.8,659.0 152.3,659.6 152.8,659.6 153.3,659.7 153.8,659.7 154.3,659.5 154.8,659.5 155.3,659.5 155.8,659.0 155.8,663.2 155.3,663.2 154.8,663.5 154.3,663.5 153.8,665.1 153.3,664.1 152.8,664.0 152.3,663.5 151.8,663.7 151.3,663.3 150.8,663.4 150.3,663.5 149.8,663.3 149.3,663.8 148.8,663.3 148.3,663.8 147.8,663.2 147.3,663.7 146.8,663.2 146.3,664.1 145.8,663.3 145.3,664.0 144.8,663.5 144.3,663.3 143.8,664.0 143.3,663.3 142.8,663.8 142.3,663.3 141.8,664.2 141.3,663.7 140.8,665.0 140.3,663.6 139.8,663.3 139.3,664.1 138.8,663.3 138.3,664.1 137.8,663.3 137.3,663.7 136.8,663.6 136.3,663.9 135.8,664.4 135.3,663.7 134.8,664.2 134.3,663.6 133.8,663.8 133.3,663.5 132.8,663.5 132.3,663.3 131.8,663.5 131.3,664.4 130.8,663.7 130.3,663.6 129.8,663.8 129.3,663.4 128.8,663.8 128.3,664.6 127.8,663.4 127.3,664.8 126.8,663.8 126.3,663.6 125.8,663.5 125.3,663.9 124.8,663.5 124.3,663.4 123.8,664.2 123.3,663.7 122.8,664.1 122.3,664.6 121.8,663.6 121.3,664.1 120.8,663.7 120.3,664.7 119.8,664.3 119.3,663.7 118.8,664.1 118.3,664.1 117.8,664.0 117.3,663.8 116.8,663.9 116.3,663.7 115.8,663.6 115.3,663.6 114.8,664.0 114.3,663.5 113.8,664.4 113.3,663.5 112.8,663.6 112.3,663.9 111.8,663.7 111.3,664.4 110.8,663.7 110.3,663.5 109.8,663.8 109.3,664.1 108.8,663.9 108.3,664.3 107.8,664.2 107.3,664.3 106.8,663.8 106.3,663.6 105.8,664.2 105.3,664.5 104.8,664.0 104.3,663.6 103.8,663.6 103.3,663.9 102.8,664.7 102.3,664.5 101.8,663.6 101.3,663.6 100.8,663.6 100.3,664.4 99.8,663.6 99.3,664.2 98.8,663.9 98.3,664.2 97.8,663.9 97.3,663.7 96.8,664.0 96.3,664.2 95.8,664.0 95.3,663.7 94.8,664.2 94.3,664.6 93.8,663.7 93.3,664.0 92.8,664.2 92.3,664.1 91.8,663.9 91.3,664.4 90.8,664.0 90.3,664.0 89.8,664.0 89.3,664.2 88.8,664.1 88.3,664.0 87.8,664.0 87.3,664.1 86.8,663.7 86.3,663.9 85.8,664.4 85.3,664.0 84.8,666.1 84.3,664.0 83.8,664.7 83.3,664.6 82.8,664.7 82.3,664.2 81.8,663.9 81.3,664.0 80.8,663.8 80.3,664.2 79.8,663.9 79.3,664.3 78.8,663.8 78.3,664.1 77.8,664.0 77.3,663.9 76.8,664.1 76.3,664.0 75.8,663.9 75.3,664.0 74.8,663.9 74.3,663.8 73.8,663.8 73.3,664.6 72.8,664.0 72.3,664.4 71.8,664.1 71.3,663.9 70.8,664.2 70.3,664.5 69.8,664.0 69.3,664.0 68.8,664.0 68.3,664.4 67.8,664.1 67.3,664.0 66.8,664.8 66.3,663.9 65.8,663.9 65.3,664.1 64.8,664.3 64.3,664.3 63.8,664.0 63.3,664.1 62.8,664.4 62.3,664.0 61.8,664.5 61.3,664.5 60.8,664.1 60.3,664.0 59.8,664.3 59.3,664.1 58.8,664.4 58.3,664.0 57.8,664.2 57.3,664.3 56.8,664.2 56.3,664.8 55.8,664.4 55.3,664.2 54.8,664.6 54.3,665.0 53.8,664.2 53.3,664.1 52.8,664.4 52.3,664.8Z" fill="#000"/>
<line x1="62.50" y1="652.20" x2="62.50" y2="662.00" stroke="#333" stroke-width="0.9" stroke-linecap="butt"/>
<line x1="99.50" y1="662.00" x2="99.50" y2="667.50" stroke="#555" stroke-width="0.9" stroke-linecap="butt"/>
<path d="M52.30,781.50 52.80,781.50 53.30,781.50 53.80,781.50 54.30,781.50 54.80,781.50 55.30,781.50 55.80,781.50 56.30,781.50 56.80,781.50 57.30,781.50 57.80,781.50 58.30,781.50 58.80,781.50 59.30,781.50 59.80,781.50 60.30,781.50 60.80,781.50 61.30,781.50 61.80,781.50 62.30,781.50 62.80,781.50 63.30,781.50 63.80,781.50 64.30,781.50 64.80,781.50 65.30,781.50 65.80,781.50 66.30,781.50 66.80,781.50 67.30,781.50 67.80,781.50 68.30,781.50 68.80,781.50 69.30,781.50 69.80,781.50 70.30,781.50 70.80,781.50 71.30,781.50 71.80,781.50 72.30,781.50 72.80,781.50 73.30,781.50 73.80,781.50 74.30,781.50 74.80,781.50 75.30,781.50 75.80,781.50 76.30,781.50 76.80,781.50 77.30,781.50 77.80,781.50 78.30,781.55 78.80,781.99 79.30,782.74 79.80,783.57 80.30,784.69 80.80,786.09 81.30,787.59 81.80,789.00 82.30,790.36 82.80,791.77 83.30,793.09 83.80,794.23 84.30,795.11 84.80,795.90 85.30,796.62 85.80,797.25 86.30,797.79 86.80,798.23 87.30,798.58 87.80,798.91 88.30,799.21 88.80,799.49 89.30,799.75 89.80,799.98 90.30,800.18 90.80,800.35 91.30,800.49 91.80,800.60 92.30,800.69 92.80,800.78 93.30,800.87 93.80,800.95 94.30,801.03 94.80,801.11 95.30,801.18 95.80,801.25 96.30,801.32 96.80,801.38 97.30,801.44 97.80,801.50 98.30,801.56 98.80,801.61 99.30,801.65 99.80,801.70 100.30,801.74 100.80,801.77 101.30,801.80 101.80,801.83 102.30,801.85 102.80,801.87 103.30,801.88 103.80,801.89 104.30,801.90 104.80,801.90 105.30,801.90 105.80,801.90 106.30,801.89 106.80,801.89 107.30,801.88 107.80,801.88 108.30,801.87 108.80,801.86 109.30,801.85 109.80,801.84 110.30,801.83 110.80,801.82 111.30,801.80 111.80,801.79 112.30,801.78 112.80,801.76 113.30,801.75 113.80,801.73 114.30,801.71 114.80,801.70 115.30,801.68 115.80,801.66 116.30,801.64 116.80,801.62 117.30,801.60 117.80,801.58 118.30,801.57 118.80,801.55 119.30,801.53 119.80,801.51 120.30,801.48 120.80,801.46 121.30,801.43 121.80,801.40 122.30,801.37 122.80,801.33 123.30,801.29 123.80,801.24 124.30,801.19 124.80,801.13 125.30,801.06 125.80,800.99 126.30,800.91 126.80,800.82 127.30,800.73 127.80,800.62 128.30,800.39 128.80,799.83 129.30,799.05 129.80,798.02 130.30,796.31 130.80,794.13 131.30,791.75 131.80,789.43 132.30,787.19 132.80,784.71 133.30,782.13 133.80,779.62 134.30,777.35 134.80,775.47 135.30,774.11 135.80,772.97 136.30,771.96 136.80,771.06 137.30,770.28 137.80,769.59 138.30,769.00 138.80,768.46 139.30,767.96 139.80,767.49 140.30,767.05 140.80,766.64 141.30,766.28 141.80,765.95 142.30,765.66 142.80,765.42 143.30,765.22 143.80,765.05 144.30,764.88 144.80,764.72 145.30,764.58 145.80,764.45 146.30,764.32 146.80,764.21 147.30,764.10 147.80,764.00 148.30,763.91 148.80,763.83 149.30,763.75 149.80,763.67 150.30,763.60 150.80,763.54 151.30,763.48 151.80,763.42 152.30,763.37 152.80,763.32 153.30,763.27 153.80,763.22 154.30,763.17 154.80,763.12 155.30,763.07 155.80,763.02" fill="none" stroke="#111" stroke-width="0.9" stroke-linejoin="round"/>
<text x="101.70" y="688.00" font-size="10.3" text-anchor="middle" font-weight="bold" textLength="30.1" lengthAdjust="spacingAndGlyphs" fill="#000">OSM-9</text>
<line x1="213.50" y1="648.30" x2="213.50" y2="734.50" stroke="#222" stroke-width="1.0" stroke-linecap="butt"/>
<line x1="208.40" y1="655.50" x2="213.40" y2="655.50" stroke="#222" stroke-width="1" stroke-linecap="butt"/>
<text x="205.80" y="659.20" font-size="10.4" text-anchor="end" letter-spacing="0.25" fill="#000">0</text>
<line x1="208.40" y1="679.50" x2="213.40" y2="679.50" stroke="#222" stroke-width="1" stroke-linecap="butt"/>
<text x="205.80" y="683.30" font-size="10.4" text-anchor="end" letter-spacing="0.25" fill="#000">-0.1</text>
<line x1="208.40" y1="703.50" x2="213.40" y2="703.50" stroke="#222" stroke-width="1" stroke-linecap="butt"/>
<text x="205.80" y="707.40" font-size="10.4" text-anchor="end" letter-spacing="0.25" fill="#000">-0.2</text>
<line x1="208.40" y1="727.50" x2="213.40" y2="727.50" stroke="#222" stroke-width="1" stroke-linecap="butt"/>
<text x="205.80" y="731.50" font-size="10.4" text-anchor="end" letter-spacing="0.25" fill="#000">-0.3</text>
<line x1="213.50" y1="762.00" x2="213.50" y2="813.10" stroke="#222" stroke-width="1.0" stroke-linecap="butt"/>
<line x1="208.40" y1="762.50" x2="213.40" y2="762.50" stroke="#222" stroke-width="1" stroke-linecap="butt"/>
<text x="206.60" y="765.90" font-size="11.0" text-anchor="end" fill="#000">35</text>
<line x1="208.40" y1="782.50" x2="213.40" y2="782.50" stroke="#222" stroke-width="1" stroke-linecap="butt"/>
<text x="206.60" y="785.90" font-size="11.0" text-anchor="end" fill="#000">25</text>
<line x1="208.40" y1="802.50" x2="213.40" y2="802.50" stroke="#222" stroke-width="1" stroke-linecap="butt"/>
<text x="206.60" y="805.90" font-size="11.0" text-anchor="end" fill="#000">15</text>
<line x1="209.90" y1="772.50" x2="213.40" y2="772.50" stroke="#222" stroke-width="1" stroke-linecap="butt"/>
<line x1="209.90" y1="792.50" x2="213.40" y2="792.50" stroke="#222" stroke-width="1" stroke-linecap="butt"/>
<line x1="212.90" y1="812.50" x2="318.30" y2="812.50" stroke="#222" stroke-width="1.2" stroke-linecap="butt"/>
<line x1="213.50" y1="812.60" x2="213.50" y2="817.10" stroke="#222" stroke-width="1" stroke-linecap="butt"/>
<text x="213.40" y="827.00" font-size="10.2" text-anchor="middle" fill="#000">0</text>
<line x1="239.50" y1="812.60" x2="239.50" y2="817.10" stroke="#222" stroke-width="1" stroke-linecap="butt"/>
<text x="239.50" y="827.00" font-size="10.2" text-anchor="middle" fill="#000">30</text>
<line x1="265.50" y1="812.60" x2="265.50" y2="817.10" stroke="#222" stroke-width="1" stroke-linecap="butt"/>
<text x="265.60" y="827.00" font-size="10.2" text-anchor="middle" fill="#000">60</text>
<line x1="291.50" y1="812.60" x2="291.50" y2="817.10" stroke="#222" stroke-width="1" stroke-linecap="butt"/>
<text x="291.70" y="827.00" font-size="10.2" text-anchor="middle" fill="#000">90</text>
<line x1="317.50" y1="812.60" x2="317.50" y2="817.10" stroke="#222" stroke-width="1" stroke-linecap="butt"/>
<text x="317.80" y="827.00" font-size="10.2" text-anchor="middle" fill="#000">120</text>
<text x="266.30" y="836.80" font-size="10.5" text-anchor="middle" textLength="44.6" lengthAdjust="spacingAndGlyphs" fill="#000">Time (sec)</text>
<text x="181.20" y="694.00" font-size="10.5" text-anchor="middle" transform="rotate(-90 181.20 694.00)" textLength="53.5" lengthAdjust="spacingAndGlyphs" fill="#000">Current (µA)</text>
<text x="181.20" y="784.80" font-size="10.5" text-anchor="middle" transform="rotate(-90 181.20 784.80)" textLength="45.0" lengthAdjust="spacingAndGlyphs" fill="#000">Temp. (°C)</text>
<line x1="241.50" y1="649.00" x2="241.50" y2="812.60" stroke="#333" stroke-width="1.4" stroke-dasharray="3.9 2.6" stroke-linecap="butt"/>
<line x1="291.50" y1="649.00" x2="291.50" y2="812.60" stroke="#333" stroke-width="1.4" stroke-dasharray="3.9 2.6" stroke-linecap="butt"/>
<path d="M213.8,663.2 214.3,664.2 214.8,663.8 215.3,663.7 215.8,664.1 216.3,663.9 216.8,663.9 217.3,663.7 217.8,663.3 218.3,663.7 218.8,663.5 219.3,663.0 219.8,663.6 220.3,663.8 220.8,663.4 221.3,663.7 221.8,663.4 222.3,663.0 222.8,663.6 223.3,663.3 223.8,663.3 224.3,663.6 224.8,663.5 225.3,663.2 225.8,663.6 226.3,663.6 226.8,663.1 227.3,663.8 227.8,662.8 228.3,663.6 228.8,663.2 229.3,663.0 229.8,663.4 230.3,663.6 230.8,663.4 231.3,663.4 231.8,663.1 232.3,663.7 232.8,663.2 233.3,663.5 233.8,663.2 234.3,663.4 234.8,662.7 235.3,662.8 235.8,663.5 236.3,662.3 236.8,663.1 237.3,663.6 237.8,662.9 238.3,663.4 238.8,663.4 239.3,663.2 239.8,663.5 240.3,662.9 240.8,663.1 241.3,663.0 241.8,662.7 242.3,663.4 242.8,663.4 243.3,663.6 243.8,663.2 244.3,663.2 244.8,662.9 245.3,663.4 245.8,663.5 246.3,663.5 246.8,663.3 247.3,663.4 247.8,663.0 248.3,663.5 248.8,663.6 249.3,663.0 249.8,662.8 250.3,662.9 250.8,663.2 251.3,663.1 251.8,662.6 252.3,663.3 252.8,663.1 253.3,663.2 253.8,663.2 254.3,663.2 254.8,663.2 255.3,663.0 255.8,663.4 256.3,663.5 256.8,663.4 257.3,663.1 257.8,662.6 258.3,663.5 258.8,663.1 259.3,662.8 259.8,663.5 260.3,662.4 260.8,662.3 261.3,662.7 261.8,663.4 262.3,663.5 262.8,663.3 263.3,662.8 263.8,663.3 264.3,663.2 264.8,663.1 265.3,663.4 265.8,663.5 266.3,663.5 266.8,663.0 267.3,663.1 267.8,663.1 268.3,663.0 268.8,663.1 269.3,662.6 269.8,663.6 270.3,663.4 270.8,663.2 271.3,663.3 271.8,663.1 272.3,663.5 272.8,663.3 273.3,663.5 273.8,663.4 274.3,663.5 274.8,663.5 275.3,663.6 275.8,663.5 276.3,663.1 276.8,663.2 277.3,663.5 277.8,662.9 278.3,663.4 278.8,662.8 279.3,663.6 279.8,663.6 280.3,663.1 280.8,662.3 281.3,662.7 281.8,663.4 282.3,663.3 282.8,663.5 283.3,663.4 283.8,663.5 284.3,663.6 284.8,663.5 285.3,663.6 285.8,663.3 286.3,663.2 286.8,661.6 287.3,663.1 287.8,663.3 288.3,663.2 288.8,662.9 289.3,663.6 289.8,662.9 290.3,662.9 290.8,663.0 291.3,663.1 291.8,663.0 292.3,663.4 292.8,663.8 293.3,663.7 293.8,663.7 294.3,663.2 294.8,664.2 295.3,664.2 295.8,663.8 296.3,664.6 296.8,664.9 297.3,665.0 297.8,664.4 298.3,665.1 298.8,664.9 299.3,664.9 299.8,664.7 300.3,664.5 300.8,664.8 301.3,665.3 301.8,665.0 302.3,664.5 302.8,665.3 303.3,665.1 303.8,663.9 304.3,664.5 304.8,665.3 305.3,665.2 305.8,665.3 306.3,665.2 306.8,664.3 307.3,665.5 307.8,665.0 308.3,665.1 308.8,665.2 309.3,665.4 309.8,665.5 310.3,665.5 310.8,665.5 311.3,665.0 311.8,665.1 312.3,665.3 312.8,665.1 313.3,665.0 313.8,664.7 314.3,665.4 314.8,665.2 315.3,664.7 315.8,665.5 316.3,665.3 316.8,665.3 316.8,669.2 316.3,669.5 315.8,669.0 315.3,669.7 314.8,669.2 314.3,669.4 313.8,669.9 313.3,669.5 312.8,669.0 312.3,669.2 311.8,669.3 311.3,669.2 310.8,669.3 310.3,669.0 309.8,669.5 309.3,669.5 308.8,669.5 308.3,668.9 307.8,669.5 307.3,669.0 306.8,669.2 306.3,669.2 305.8,669.0 305.3,669.0 304.8,669.1 304.3,669.4 303.8,669.0 303.3,669.1 302.8,669.0 302.3,669.3 301.8,669.1 301.3,668.9 300.8,669.2 300.3,668.8 299.8,669.6 299.3,668.8 298.8,669.0 298.3,669.0 297.8,669.3 297.3,668.4 296.8,669.0 296.3,668.6 295.8,668.5 295.3,668.7 294.8,668.1 294.3,667.9 293.8,667.9 293.3,668.3 292.8,668.2 292.3,667.2 291.8,668.3 291.3,667.8 290.8,667.0 290.3,667.4 289.8,667.5 289.3,667.9 288.8,667.8 288.3,667.9 287.8,668.1 287.3,667.4 286.8,667.6 286.3,667.3 285.8,667.2 285.3,667.2 284.8,667.4 284.3,667.1 283.8,667.7 283.3,667.3 282.8,667.2 282.3,667.3 281.8,667.4 281.3,667.5 280.8,667.1 280.3,667.3 279.8,667.1 279.3,667.1 278.8,667.9 278.3,667.4 277.8,667.1 277.3,667.7 276.8,667.5 276.3,667.2 275.8,667.3 275.3,667.7 274.8,667.2 274.3,667.7 273.8,667.4 273.3,667.0 272.8,667.1 272.3,667.6 271.8,669.5 271.3,667.2 270.8,667.1 270.3,667.4 269.8,667.9 269.3,667.3 268.8,667.1 268.3,667.5 267.8,667.1 267.3,667.4 266.8,667.6 266.3,667.2 265.8,667.0 265.3,667.7 264.8,667.8 264.3,667.1 263.8,667.2 263.3,667.6 262.8,668.2 262.3,667.3 261.8,667.1 261.3,667.2 260.8,667.1 260.3,668.0 259.8,667.0 259.3,667.2 258.8,667.5 258.3,667.3 257.8,667.3 257.3,667.4 256.8,667.0 256.3,667.1 255.8,667.4 255.3,667.1 254.8,667.5 254.3,667.2 253.8,667.5 253.3,667.5 252.8,667.5 252.3,667.0 251.8,667.2 251.3,667.6 250.8,667.4 250.3,667.5 249.8,667.9 249.3,667.5 248.8,667.9 248.3,667.3 247.8,667.9 247.3,667.3 246.8,667.4 246.3,667.5 245.8,667.7 245.3,667.5 244.8,667.2 244.3,667.5 243.8,667.1 243.3,667.5 242.8,667.2 242.3,667.1 241.8,667.0 241.3,667.1 240.8,667.2 240.3,667.6 239.8,667.2 239.3,668.6 238.8,667.4 238.3,667.7 237.8,667.3 237.3,668.4 236.8,667.3 236.3,667.3 235.8,667.2 235.3,667.1 234.8,667.3 234.3,667.5 233.8,667.9 233.3,667.4 232.8,667.4 232.3,667.7 231.8,668.2 231.3,667.2 230.8,667.4 230.3,667.7 229.8,667.5 229.3,667.5 228.8,667.8 228.3,667.6 227.8,667.3 227.3,667.3 226.8,667.4 226.3,667.6 225.8,667.9 225.3,667.6 224.8,667.7 224.3,667.5 223.8,667.5 223.3,667.8 222.8,668.1 222.3,667.7 221.8,667.9 221.3,667.9 220.8,668.4 220.3,668.0 219.8,667.9 219.3,668.0 218.8,668.9 218.3,667.9 217.8,668.0 217.3,668.0 216.8,668.2 216.3,668.1 215.8,667.7 215.3,667.7 214.8,667.7 214.3,668.2 213.8,668.1Z" fill="#000"/>
<line x1="216.50" y1="655.20" x2="216.50" y2="666.00" stroke="#555" stroke-width="0.9" stroke-linecap="butt"/>
<line x1="218.50" y1="657.00" x2="218.50" y2="666.00" stroke="#555" stroke-width="0.9" stroke-linecap="butt"/>
<line x1="222.50" y1="655.20" x2="222.50" y2="666.00" stroke="#555" stroke-width="0.9" stroke-linecap="butt"/>
<line x1="239.50" y1="656.80" x2="239.50" y2="666.00" stroke="#555" stroke-width="0.9" stroke-linecap="butt"/>
<line x1="215.50" y1="666.00" x2="215.50" y2="669.00" stroke="#333" stroke-width="0.9" stroke-linecap="butt"/>
<path d="M213.80,782.50 214.30,782.50 214.80,782.50 215.30,782.50 215.80,782.50 216.30,782.50 216.80,782.50 217.30,782.50 217.80,782.50 218.30,782.50 218.80,782.50 219.30,782.50 219.80,782.50 220.30,782.50 220.80,782.50 221.30,782.50 221.80,782.50 222.30,782.50 222.80,782.50 223.30,782.50 223.80,782.50 224.30,782.50 224.80,782.50 225.30,782.50 225.80,782.50 226.30,782.50 226.80,782.50 227.30,782.50 227.80,782.50 228.30,782.50 228.80,782.50 229.30,782.50 229.80,782.50 230.30,782.50 230.80,782.50 231.30,782.50 231.80,782.50 232.30,782.50 232.80,782.50 233.30,782.50 233.80,782.50 234.30,782.50 234.80,782.50 235.30,782.50 235.80,782.50 236.30,782.50 236.80,782.50 237.30,782.50 237.80,782.50 238.30,782.50 238.80,782.50 239.30,782.50 239.80,782.50 240.30,782.50 240.80,782.50 241.30,782.50 241.80,782.60 242.30,783.11 242.80,783.80 243.30,784.79 243.80,786.17 244.30,787.61 244.80,788.81 245.30,789.90 245.80,790.95 246.30,791.89 246.80,792.66 247.30,793.19 247.80,793.64 248.30,794.04 248.80,794.40 249.30,794.72 249.80,794.99 250.30,795.22 250.80,795.41 251.30,795.56 251.80,795.69 252.30,795.81 252.80,795.93 253.30,796.04 253.80,796.14 254.30,796.23 254.80,796.31 255.30,796.39 255.80,796.45 256.30,796.51 256.80,796.55 257.30,796.58 257.80,796.61 258.30,796.63 258.80,796.65 259.30,796.67 259.80,796.69 260.30,796.71 260.80,796.73 261.30,796.75 261.80,796.77 262.30,796.78 262.80,796.80 263.30,796.82 263.80,796.83 264.30,796.85 264.80,796.86 265.30,796.87 265.80,796.89 266.30,796.90 266.80,796.91 267.30,796.92 267.80,796.93 268.30,796.94 268.80,796.95 269.30,796.95 269.80,796.96 270.30,796.97 270.80,796.97 271.30,796.98 271.80,796.99 272.30,796.99 272.80,796.99 273.30,797.00 273.80,797.00 274.30,797.00 274.80,797.00 275.30,797.00 275.80,797.00 276.30,797.00 276.80,797.00 277.30,797.00 277.80,796.99 278.30,796.99 278.80,796.98 279.30,796.98 279.80,796.97 280.30,796.97 280.80,796.96 281.30,796.95 281.80,796.94 282.30,796.93 282.80,796.91 283.30,796.90 283.80,796.88 284.30,796.86 284.80,796.85 285.30,796.83 285.80,796.80 286.30,796.78 286.80,796.75 287.30,796.73 287.80,796.70 288.30,796.66 288.80,796.63 289.30,796.59 289.80,796.56 290.30,796.52 290.80,796.40 291.30,795.99 291.80,795.39 292.30,794.71 292.80,793.80 293.30,792.67 293.80,791.36 294.30,789.97 294.80,788.48 295.30,786.73 295.80,784.80 296.30,782.83 296.80,780.95 297.30,779.14 297.80,777.24 298.30,775.40 298.80,773.80 299.30,772.60 299.80,771.70 300.30,770.89 300.80,770.17 301.30,769.56 301.80,769.04 302.30,768.63 302.80,768.32 303.30,768.04 303.80,767.79 304.30,767.57 304.80,767.37 305.30,767.19 305.80,767.03 306.30,766.88 306.80,766.75 307.30,766.62 307.80,766.51 308.30,766.40 308.80,766.30 309.30,766.21 309.80,766.12 310.30,766.04 310.80,765.96 311.30,765.88 311.80,765.81 312.30,765.74 312.80,765.67 313.30,765.61 313.80,765.54 314.30,765.48 314.80,765.41 315.30,765.35 315.80,765.28 316.30,765.22 316.80,765.15 317.30,765.08 317.80,765.00" fill="none" stroke="#111" stroke-width="0.9" stroke-linejoin="round"/>
<text x="264.20" y="688.00" font-size="10.3" text-anchor="middle" font-weight="bold" textLength="29.5" lengthAdjust="spacingAndGlyphs" fill="#000">OCR-2</text>
<rect x="537.20" y="104.00" width="12.90" height="12.70" fill="#a0a0a0"/>
<rect x="561.10" y="104.00" width="12.10" height="90.60" fill="#a0a0a0"/>
<rect x="585.20" y="104.00" width="12.20" height="75.00" fill="#a0a0a0"/>
<rect x="608.10" y="104.00" width="12.70" height="8.60" fill="#a0a0a0"/>
<rect x="632.00" y="104.00" width="12.90" height="13.70" fill="#a0a0a0"/>
<rect x="656.10" y="104.00" width="12.50" height="15.60" fill="#a0a0a0"/>
<line x1="527.50" y1="95.80" x2="527.50" y2="241.50" stroke="#9a9a9a" stroke-width="1.3" stroke-linecap="butt"/>
<text x="520.80" y="107.10" font-size="10.6" text-anchor="end" fill="#000">0</text>
<line x1="522.40" y1="136.50" x2="674.00" y2="136.50" stroke="#8a8a8a" stroke-width="0.9" stroke-dasharray="2.6 2.4" stroke-linecap="butt"/>
<text x="520.80" y="139.80" font-size="10.6" text-anchor="end" fill="#000">-0.02</text>
<line x1="522.40" y1="169.50" x2="674.00" y2="169.50" stroke="#8a8a8a" stroke-width="0.9" stroke-dasharray="2.6 2.4" stroke-linecap="butt"/>
<text x="520.80" y="173.20" font-size="10.6" text-anchor="end" fill="#000">-0.04</text>
<line x1="522.40" y1="203.50" x2="674.00" y2="203.50" stroke="#8a8a8a" stroke-width="0.9" stroke-dasharray="2.6 2.4" stroke-linecap="butt"/>
<text x="520.80" y="206.90" font-size="10.6" text-anchor="end" fill="#000">-0.06</text>
<line x1="522.40" y1="235.50" x2="674.00" y2="235.50" stroke="#8a8a8a" stroke-width="0.9" stroke-dasharray="2.6 2.4" stroke-linecap="butt"/>
<text x="520.80" y="239.30" font-size="10.6" text-anchor="end" fill="#000">-0.08</text>
<line x1="524.00" y1="103.50" x2="674.30" y2="103.50" stroke="#000" stroke-width="1.2" stroke-linecap="butt"/>
<line x1="544.50" y1="109.00" x2="544.50" y2="123.60" stroke="#222" stroke-width="1.0" stroke-linecap="butt"/>
<line x1="542.10" y1="109.50" x2="545.90" y2="109.50" stroke="#222" stroke-width="1.0" stroke-linecap="butt"/>
<line x1="542.10" y1="123.50" x2="545.90" y2="123.50" stroke="#222" stroke-width="1.0" stroke-linecap="butt"/>
<text x="544.40" y="134.50" font-size="10.8" text-anchor="middle" fill="#000">b</text>
<line x1="567.50" y1="178.20" x2="567.50" y2="210.40" stroke="#222" stroke-width="1.0" stroke-linecap="butt"/>
<line x1="565.50" y1="178.50" x2="569.30" y2="178.50" stroke="#222" stroke-width="1.0" stroke-linecap="butt"/>
<line x1="565.50" y1="210.50" x2="569.30" y2="210.50" stroke="#222" stroke-width="1.0" stroke-linecap="butt"/>
<text x="567.80" y="225.40" font-size="10.8" text-anchor="middle" fill="#000">a</text>
<line x1="591.50" y1="169.60" x2="591.50" y2="188.50" stroke="#222" stroke-width="1.0" stroke-linecap="butt"/>
<line x1="589.20" y1="169.50" x2="593.00" y2="169.50" stroke="#222" stroke-width="1.0" stroke-linecap="butt"/>
<line x1="589.20" y1="188.50" x2="593.00" y2="188.50" stroke="#222" stroke-width="1.0" stroke-linecap="butt"/>
<text x="591.50" y="203.80" font-size="10.8" text-anchor="middle" fill="#000">a</text>
<line x1="614.50" y1="106.40" x2="614.50" y2="118.20" stroke="#222" stroke-width="1.0" stroke-linecap="butt"/>
<line x1="612.70" y1="106.50" x2="616.50" y2="106.50" stroke="#222" stroke-width="1.0" stroke-linecap="butt"/>
<line x1="612.70" y1="118.50" x2="616.50" y2="118.50" stroke="#222" stroke-width="1.0" stroke-linecap="butt"/>
<text x="615.00" y="130.90" font-size="10.8" text-anchor="middle" fill="#000">b</text>
<line x1="638.50" y1="112.60" x2="638.50" y2="123.60" stroke="#222" stroke-width="1.0" stroke-linecap="butt"/>
<line x1="636.70" y1="112.50" x2="640.50" y2="112.50" stroke="#222" stroke-width="1.0" stroke-linecap="butt"/>
<line x1="636.70" y1="123.50" x2="640.50" y2="123.50" stroke="#222" stroke-width="1.0" stroke-linecap="butt"/>
<text x="639.00" y="134.50" font-size="10.8" text-anchor="middle" fill="#000">b</text>
<line x1="662.50" y1="112.60" x2="662.50" y2="126.50" stroke="#222" stroke-width="1.0" stroke-linecap="butt"/>
<line x1="660.80" y1="112.50" x2="664.60" y2="112.50" stroke="#222" stroke-width="1.0" stroke-linecap="butt"/>
<line x1="660.80" y1="126.50" x2="664.60" y2="126.50" stroke="#222" stroke-width="1.0" stroke-linecap="butt"/>
<text x="663.10" y="149.90" font-size="10.8" text-anchor="middle" fill="#000">b</text>
<text x="544.00" y="101.00" font-size="10.8" text-anchor="start" transform="rotate(-53 544.00 101.00)" fill="#000">DW</text>
<text x="567.50" y="101.00" font-size="10.8" text-anchor="start" transform="rotate(-53 567.50 101.00)" fill="#000">OSM-9 OCR-2</text>
<text x="591.50" y="101.00" font-size="10.8" text-anchor="start" transform="rotate(-53 591.50 101.00)" fill="#000">OSM-9 OCR-2 OCR-1</text>
<text x="614.50" y="101.00" font-size="10.8" text-anchor="start" transform="rotate(-53 614.50 101.00)" fill="#000">OSM-9</text>
<text x="638.50" y="101.00" font-size="10.8" text-anchor="start" transform="rotate(-53 638.50 101.00)" fill="#000">OCR-2</text>
<text x="662.50" y="101.00" font-size="10.8" text-anchor="start" transform="rotate(-53 662.50 101.00)" fill="#000">OCR-1</text>
<text x="486.00" y="170.10" font-size="10.0" text-anchor="middle" transform="rotate(-90 486.00 170.10)" textLength="73.5" lengthAdjust="spacingAndGlyphs" fill="#000">Current size (µA)</text>
<text x="526.50" y="11.70" font-size="10.8" text-anchor="start" fill="#000">Normalised</text>
<text x="526.50" y="25.30" font-size="10.8" text-anchor="start" fill="#000">heat-evoked currents</text>
<text x="668.20" y="228.90" font-size="10.6" text-anchor="end" fill="#000">(N ≥ 6)</text>
<rect x="426.90" y="562.10" width="12.50" height="46.20" fill="#a0a0a0"/>
<rect x="452.10" y="607.70" width="12.70" height="0.60" fill="#a0a0a0"/>
<rect x="476.20" y="595.90" width="12.50" height="12.40" fill="#a0a0a0"/>
<line x1="394.50" y1="469.70" x2="394.50" y2="621.30" stroke="#9a9a9a" stroke-width="1.3" stroke-linecap="butt"/>
<line x1="391.00" y1="478.50" x2="500.00" y2="478.50" stroke="#8a8a8a" stroke-width="0.9" stroke-dasharray="2.6 2.4" stroke-linecap="butt"/>
<text x="388.80" y="481.90" font-size="10.6" text-anchor="end" fill="#000">0.08</text>
<line x1="391.00" y1="510.50" x2="500.00" y2="510.50" stroke="#8a8a8a" stroke-width="0.9" stroke-dasharray="2.6 2.4" stroke-linecap="butt"/>
<text x="388.80" y="514.60" font-size="10.6" text-anchor="end" fill="#000">0.06</text>
<line x1="391.00" y1="544.50" x2="500.00" y2="544.50" stroke="#8a8a8a" stroke-width="0.9" stroke-dasharray="2.6 2.4" stroke-linecap="butt"/>
<text x="388.80" y="547.90" font-size="10.6" text-anchor="end" fill="#000">0.04</text>
<line x1="391.00" y1="576.50" x2="500.00" y2="576.50" stroke="#8a8a8a" stroke-width="0.9" stroke-dasharray="2.6 2.4" stroke-linecap="butt"/>
<text x="388.80" y="580.20" font-size="10.6" text-anchor="end" fill="#000">0.02</text>
<text x="388.80" y="612.60" font-size="10.6" text-anchor="end" fill="#000">0</text>
<line x1="391.00" y1="608.50" x2="500.50" y2="608.50" stroke="#000" stroke-width="1.2" stroke-linecap="butt"/>
<line x1="409.50" y1="606.40" x2="409.50" y2="611.10" stroke="#222" stroke-width="1.0" stroke-linecap="butt"/>
<line x1="407.90" y1="606.50" x2="411.70" y2="606.50" stroke="#222" stroke-width="1.0" stroke-linecap="butt"/>
<line x1="407.90" y1="611.50" x2="411.70" y2="611.50" stroke="#222" stroke-width="1.0" stroke-linecap="butt"/>
<text x="410.20" y="594.60" font-size="10.8" text-anchor="middle" fill="#000">b</text>
<line x1="433.50" y1="549.40" x2="433.50" y2="575.60" stroke="#222" stroke-width="1.0" stroke-linecap="butt"/>
<line x1="431.60" y1="549.50" x2="435.40" y2="549.50" stroke="#222" stroke-width="1.0" stroke-linecap="butt"/>
<line x1="431.60" y1="575.50" x2="435.40" y2="575.50" stroke="#222" stroke-width="1.0" stroke-linecap="butt"/>
<text x="433.90" y="539.50" font-size="10.8" text-anchor="middle" fill="#000">a</text>
<line x1="458.50" y1="603.50" x2="458.50" y2="613.00" stroke="#222" stroke-width="1.0" stroke-linecap="butt"/>
<line x1="456.50" y1="603.50" x2="460.30" y2="603.50" stroke="#222" stroke-width="1.0" stroke-linecap="butt"/>
<line x1="456.50" y1="613.50" x2="460.30" y2="613.50" stroke="#222" stroke-width="1.0" stroke-linecap="butt"/>
<text x="458.80" y="591.70" font-size="10.8" text-anchor="middle" fill="#000">b</text>
<line x1="482.50" y1="589.30" x2="482.50" y2="604.10" stroke="#222" stroke-width="1.0" stroke-linecap="butt"/>
<line x1="480.60" y1="589.50" x2="484.40" y2="589.50" stroke="#222" stroke-width="1.0" stroke-linecap="butt"/>
<line x1="480.60" y1="604.50" x2="484.40" y2="604.50" stroke="#222" stroke-width="1.0" stroke-linecap="butt"/>
<text x="482.90" y="576.40" font-size="10.8" text-anchor="middle" fill="#000">b</text>
<text x="414.00" y="627.00" font-size="10.9" text-anchor="end" transform="rotate(-43 414.00 627.00)" fill="#000">DW</text>
<text x="438.50" y="629.50" font-size="10.9" text-anchor="end" transform="rotate(-43 438.50 629.50)" fill="#000">OSM-9 OCR-2</text>
<text x="463.50" y="629.50" font-size="10.9" text-anchor="end" transform="rotate(-43 463.50 629.50)" fill="#000">OSM-9</text>
<text x="488.00" y="630.00" font-size="10.9" text-anchor="end" transform="rotate(-43 488.00 630.00)" fill="#000">OCR-2</text>
<text x="356.80" y="530.80" font-size="10.0" text-anchor="middle" transform="rotate(-90 356.80 530.80)" textLength="73.5" lengthAdjust="spacingAndGlyphs" fill="#000">Current size (µA)</text>
<text x="397.70" y="444.40" font-size="10.8" text-anchor="start" fill="#000">Normalised</text>
<text x="397.70" y="458.00" font-size="10.8" text-anchor="start" fill="#000">cool-evoked currents</text>
<text x="498.30" y="494.00" font-size="10.6" text-anchor="end" fill="#000">(N ≥ 6)</text>
<rect x="573.20" y="537.60" width="12.80" height="8.00" fill="#a0a0a0"/>
<rect x="596.90" y="537.60" width="13.10" height="112.90" fill="#a0a0a0"/>
<rect x="621.00" y="537.60" width="12.80" height="27.90" fill="#a0a0a0"/>
<rect x="644.30" y="536.00" width="12.80" height="0.40" fill="#a0a0a0"/>
<line x1="562.50" y1="529.40" x2="562.50" y2="680.50" stroke="#9a9a9a" stroke-width="1.3" stroke-linecap="butt"/>
<text x="557.60" y="540.70" font-size="10.6" text-anchor="end" fill="#000">0</text>
<line x1="560.00" y1="570.50" x2="668.30" y2="570.50" stroke="#8a8a8a" stroke-width="0.9" stroke-dasharray="2.6 2.4" stroke-linecap="butt"/>
<text x="557.60" y="573.70" font-size="10.6" text-anchor="end" fill="#000">-0.02</text>
<line x1="560.00" y1="603.50" x2="668.30" y2="603.50" stroke="#8a8a8a" stroke-width="0.9" stroke-dasharray="2.6 2.4" stroke-linecap="butt"/>
<text x="557.60" y="607.00" font-size="10.6" text-anchor="end" fill="#000">-0.04</text>
<line x1="560.00" y1="636.50" x2="668.30" y2="636.50" stroke="#8a8a8a" stroke-width="0.9" stroke-dasharray="2.6 2.4" stroke-linecap="butt"/>
<text x="557.60" y="640.10" font-size="10.6" text-anchor="end" fill="#000">-0.06</text>
<line x1="560.00" y1="669.50" x2="668.30" y2="669.50" stroke="#8a8a8a" stroke-width="0.9" stroke-dasharray="2.6 2.4" stroke-linecap="butt"/>
<text x="557.60" y="672.80" font-size="10.6" text-anchor="end" fill="#000">-0.08</text>
<line x1="560.60" y1="537.50" x2="669.90" y2="537.50" stroke="#000" stroke-width="1.2" stroke-linecap="butt"/>
<line x1="580.50" y1="538.50" x2="580.50" y2="553.50" stroke="#222" stroke-width="1.0" stroke-linecap="butt"/>
<line x1="578.40" y1="538.50" x2="582.20" y2="538.50" stroke="#222" stroke-width="1.0" stroke-linecap="butt"/>
<line x1="578.40" y1="553.50" x2="582.20" y2="553.50" stroke="#222" stroke-width="1.0" stroke-linecap="butt"/>
<text x="580.70" y="565.80" font-size="10.8" text-anchor="middle" fill="#000">b</text>
<line x1="603.50" y1="632.00" x2="603.50" y2="669.10" stroke="#222" stroke-width="1.0" stroke-linecap="butt"/>
<line x1="601.90" y1="632.50" x2="605.70" y2="632.50" stroke="#222" stroke-width="1.0" stroke-linecap="butt"/>
<line x1="601.90" y1="669.50" x2="605.70" y2="669.50" stroke="#222" stroke-width="1.0" stroke-linecap="butt"/>
<text x="604.20" y="679.70" font-size="10.8" text-anchor="middle" fill="#000">a</text>
<line x1="627.50" y1="549.80" x2="627.50" y2="581.10" stroke="#222" stroke-width="1.0" stroke-linecap="butt"/>
<line x1="625.90" y1="549.50" x2="629.70" y2="549.50" stroke="#222" stroke-width="1.0" stroke-linecap="butt"/>
<line x1="625.90" y1="581.50" x2="629.70" y2="581.50" stroke="#222" stroke-width="1.0" stroke-linecap="butt"/>
<text x="628.20" y="592.50" font-size="10.8" text-anchor="middle" fill="#000">b</text>
<line x1="650.50" y1="526.00" x2="650.50" y2="546.70" stroke="#222" stroke-width="1.0" stroke-linecap="butt"/>
<line x1="648.70" y1="526.50" x2="652.50" y2="526.50" stroke="#222" stroke-width="1.0" stroke-linecap="butt"/>
<line x1="648.70" y1="546.50" x2="652.50" y2="546.50" stroke="#222" stroke-width="1.0" stroke-linecap="butt"/>
<text x="651.00" y="559.20" font-size="10.8" text-anchor="middle" fill="#000">b</text>
<text x="577.60" y="522.00" font-size="11.4" text-anchor="start" transform="rotate(-47 577.60 522.00)" fill="#000">DW</text>
<text x="601.20" y="522.00" font-size="11.4" text-anchor="start" transform="rotate(-47 601.20 522.00)" fill="#000">OSM-9 OCR-2</text>
<text x="626.00" y="522.00" font-size="11.4" text-anchor="start" transform="rotate(-47 626.00 522.00)" fill="#000">OSM-9</text>
<text x="649.60" y="522.00" font-size="11.4" text-anchor="start" transform="rotate(-47 649.60 522.00)" fill="#000">OCR-2</text>
<text x="524.60" y="601.20" font-size="10.0" text-anchor="middle" transform="rotate(-90 524.60 601.20)" textLength="73.5" lengthAdjust="spacingAndGlyphs" fill="#000">Current size (µA)</text>
<text x="560.40" y="444.60" font-size="10.8" text-anchor="start" fill="#000">Normalised</text>
<text x="560.40" y="457.70" font-size="10.8" text-anchor="start" fill="#000">heat-evoked currents</text>
<text x="665.10" y="661.50" font-size="10.6" text-anchor="end" fill="#000">(N ≥ 6)</text>
<line x1="209.70" y1="632.50" x2="317.80" y2="632.50" stroke="#e4e4e4" stroke-width="0.8" stroke-linecap="butt"/>
<text x="1.60" y="21.20" font-size="24" text-anchor="start" font-weight="bold" textLength="13.0" lengthAdjust="spacingAndGlyphs" fill="#000">a</text>
<text x="493.20" y="21.20" font-size="24" text-anchor="start" font-weight="bold" textLength="14.2" lengthAdjust="spacingAndGlyphs" fill="#000">b</text>
<text x="0.20" y="431.30" font-size="24" text-anchor="start" font-weight="bold" textLength="13.0" lengthAdjust="spacingAndGlyphs" fill="#000">c</text>
<text x="344.80" y="431.80" font-size="24" text-anchor="start" font-weight="bold" textLength="14.2" lengthAdjust="spacingAndGlyphs" fill="#000">d</text>
</svg>
</body></html>
